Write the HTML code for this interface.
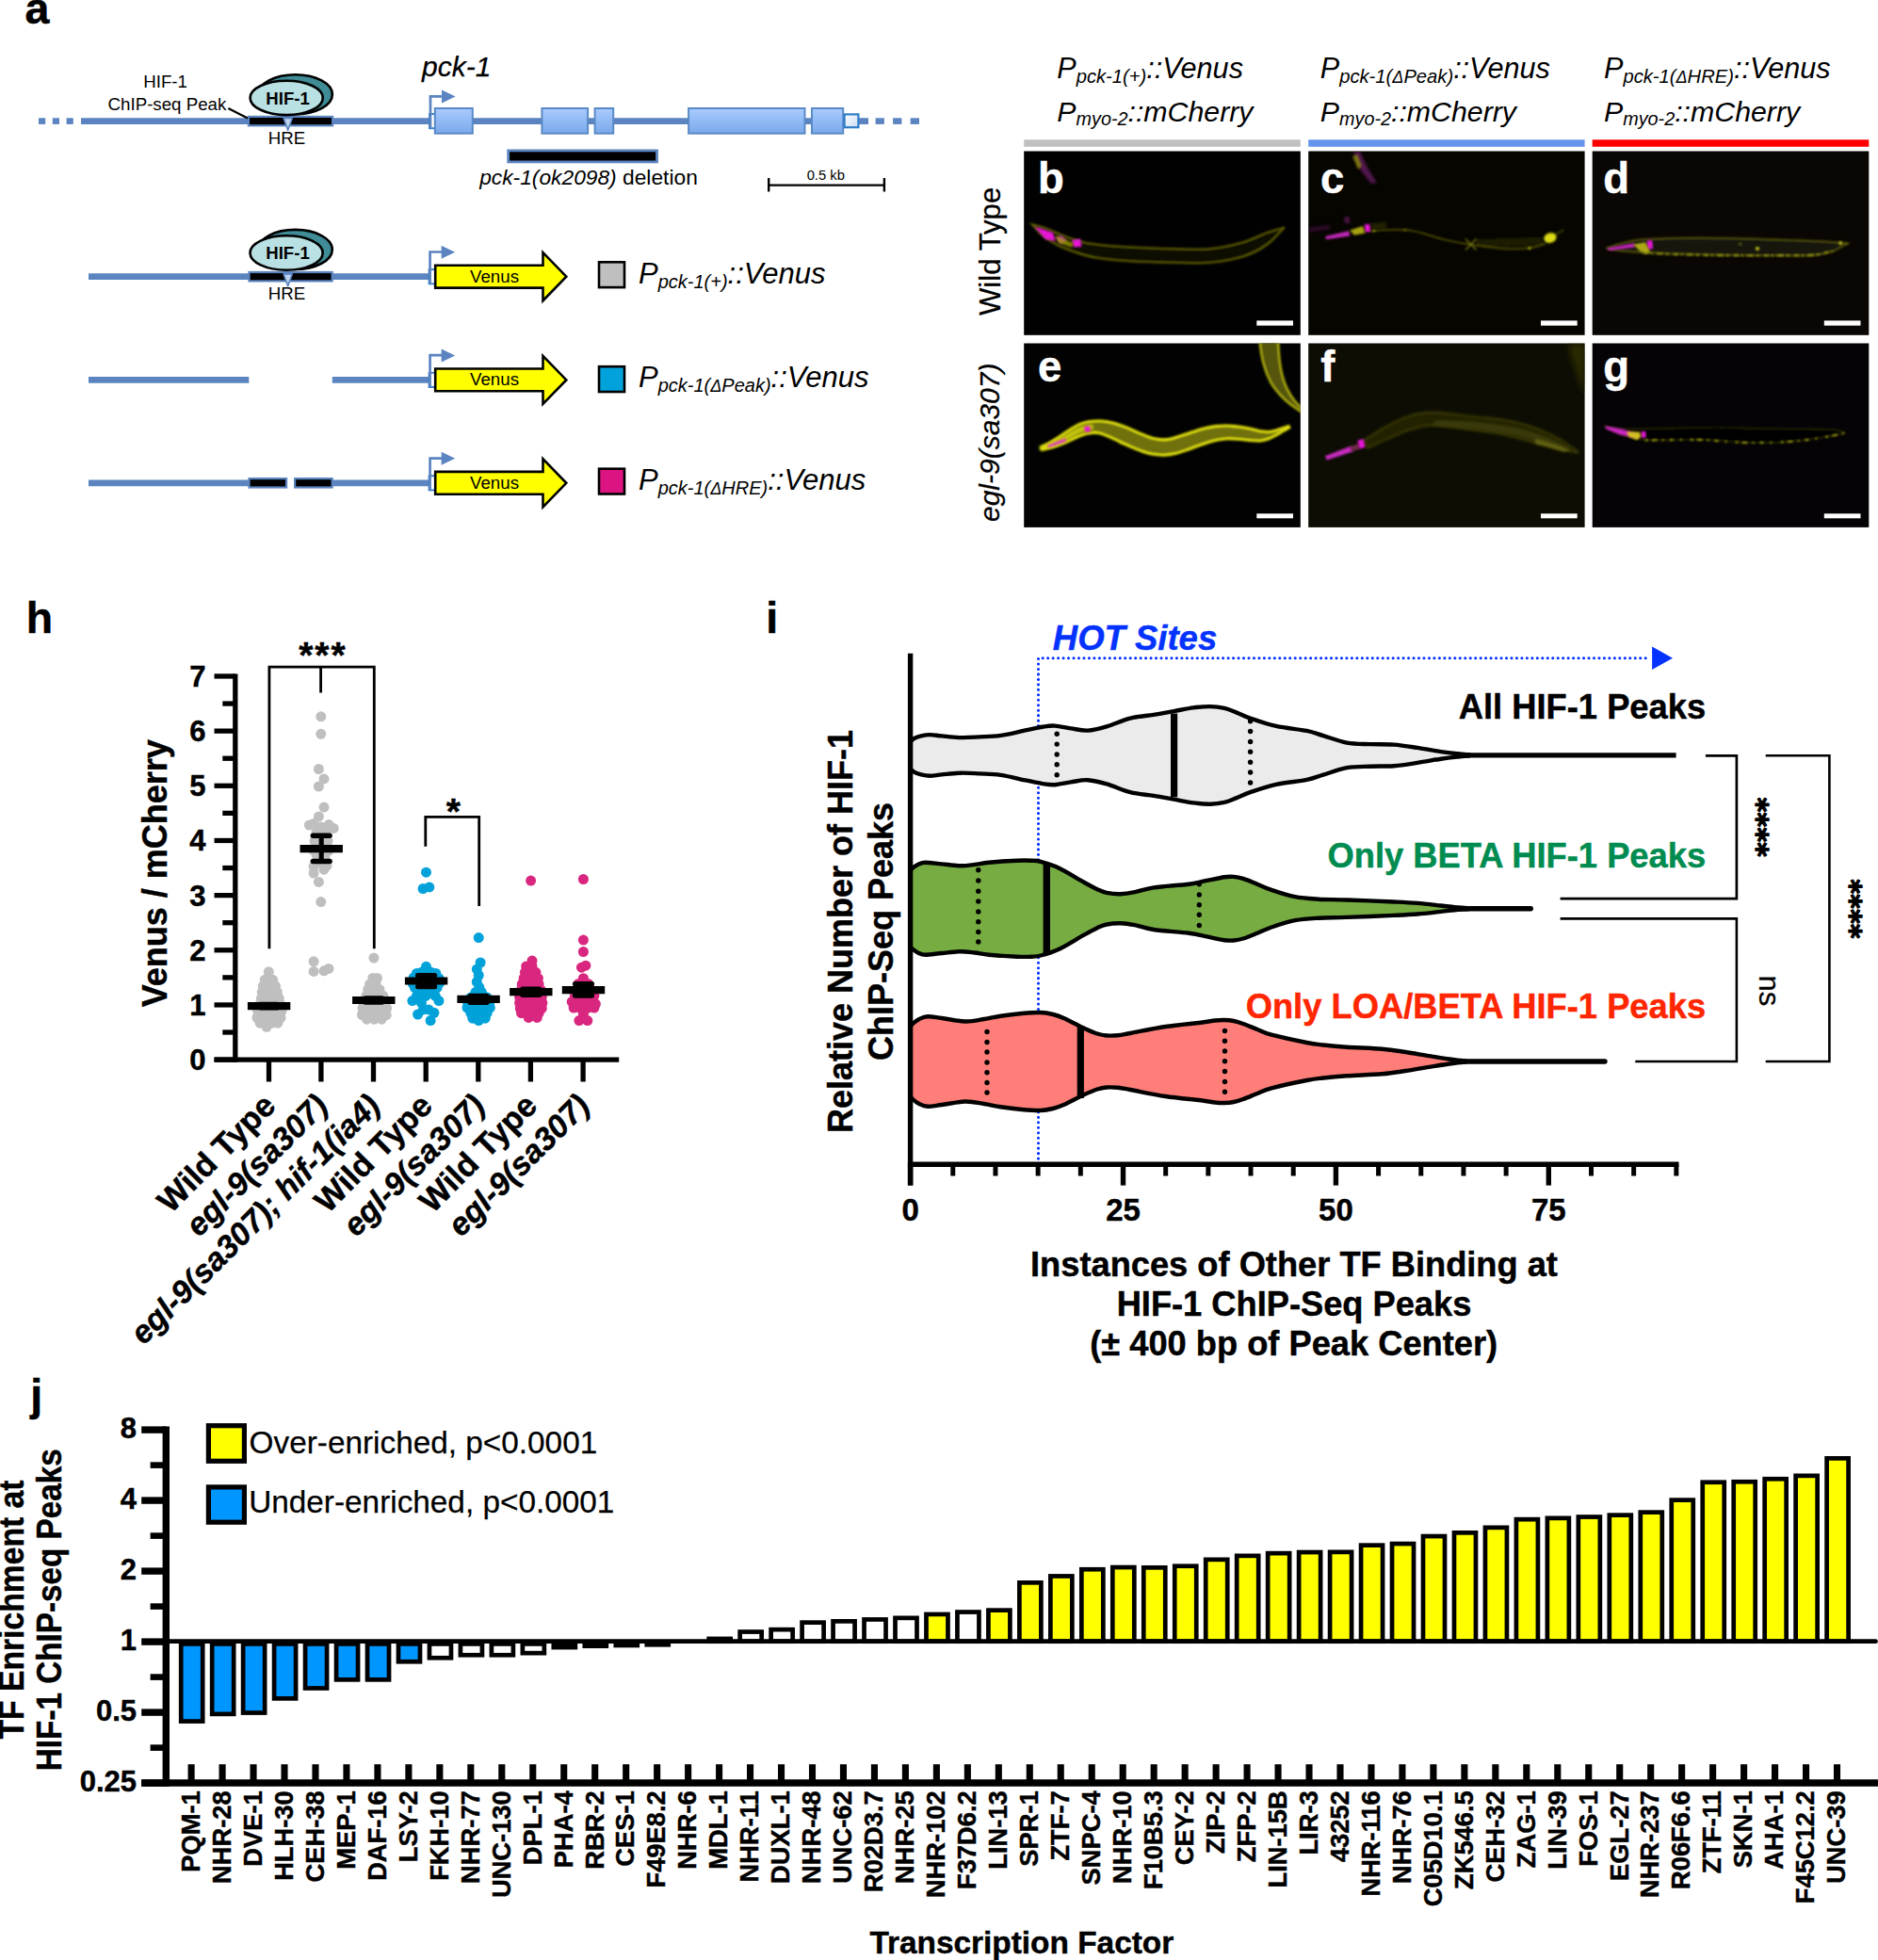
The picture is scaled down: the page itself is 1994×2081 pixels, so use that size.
<!DOCTYPE html>
<html lang="en"><head><meta charset="utf-8"><title>Figure</title>
<style>
html,body{margin:0;padding:0;background:#fff;}
body{width:1994px;height:2081px;overflow:hidden;}
svg{display:block;font-family:"Liberation Sans", sans-serif;}
</style></head><body>
<svg width="1994" height="2081" viewBox="0 0 1994 2081">
<rect width="1994" height="2081" fill="#fff"/>
<defs>
<linearGradient id="exg" x1="0" y1="0" x2="0" y2="1">
<stop offset="0" stop-color="#a9cbff"/><stop offset="1" stop-color="#7aa9ea"/></linearGradient>
<linearGradient id="utrg" x1="0" y1="0" x2="1" y2="1">
<stop offset="0" stop-color="#ffffff"/><stop offset="1" stop-color="#c9dcf5"/></linearGradient>
</defs>
<g id="panel-a">
<text x="26.60" y="24.70" font-size="46.5" font-weight="bold" font-style="normal" text-anchor="start" fill="#000"  stroke="#000" stroke-width="0.45">a</text>
<rect x="41.00" y="125.30" width="7.20" height="6.60" fill="#5b84c0" />
<rect x="55.80" y="125.30" width="7.20" height="6.60" fill="#5b84c0" />
<rect x="70.60" y="125.30" width="7.20" height="6.60" fill="#5b84c0" />
<line x1="86.00" y1="128.60" x2="922.00" y2="128.60" stroke="#5b84c0" stroke-width="6.6" stroke-linecap="butt" />
<rect x="929.60" y="125.30" width="9.30" height="6.60" fill="#5b84c0" />
<rect x="948.10" y="125.30" width="9.30" height="6.60" fill="#5b84c0" />
<rect x="966.70" y="125.30" width="9.30" height="6.60" fill="#5b84c0" />
<rect x="263.90" y="123.90" width="89.20" height="9.40" fill="#000" stroke="#5b84c0" stroke-width="2.2" />
<path d="M301.1,125.4 H310.3 L305.7,138.2 Z" fill="#bdd3ee" stroke="#5b84c0" stroke-width="1.6" stroke-linejoin="round"/>
<ellipse cx="313.5" cy="100.3" rx="39.4" ry="21.0" fill="#3f8c96" stroke="#000" stroke-width="2.6"/>
<ellipse cx="304.2" cy="103.9" rx="38.6" ry="18.2" fill="#b9e0e3" stroke="#000" stroke-width="2.6"/>
<text x="305.60" y="110.80" font-size="18.6" font-weight="bold" font-style="normal" text-anchor="middle" fill="#000" >HIF-1</text>
<text x="152.20" y="92.90" font-size="18.7" font-weight="normal" font-style="normal" text-anchor="start" fill="#000" >HIF-1</text>
<text x="114.60" y="117.40" font-size="18.7" font-weight="normal" font-style="normal" text-anchor="start" fill="#000" >ChIP-seq Peak</text>
<line x1="242.40" y1="114.90" x2="263.00" y2="125.60" stroke="#000" stroke-width="2.2" stroke-linecap="butt" />
<text x="304.60" y="153.20" font-size="18.7" font-weight="normal" font-style="normal" text-anchor="middle" fill="#000" >HRE</text>
<rect x="456.00" y="121.00" width="6.60" height="15.20" fill="#fff" stroke="#3b7fc4" stroke-width="1.9" />
<path d="M457.0,135.6 V102.4 H470.0" fill="none" stroke="#5b84c0" stroke-width="2.7"/>
<path d="M469.0,95.6 L483.6,102.6 L469.0,109.6 Z" fill="#5b84c0"/>
<rect x="461.80" y="115.00" width="40.00" height="26.70" fill="url(#exg)" stroke="#5a8ac6" stroke-width="2" />
<rect x="575.40" y="115.00" width="48.70" height="26.70" fill="url(#exg)" stroke="#5a8ac6" stroke-width="2" />
<rect x="631.60" y="115.00" width="19.60" height="26.70" fill="url(#exg)" stroke="#5a8ac6" stroke-width="2" />
<rect x="731.10" y="115.00" width="123.40" height="26.70" fill="url(#exg)" stroke="#5a8ac6" stroke-width="2" />
<rect x="862.00" y="115.00" width="33.20" height="26.70" fill="url(#exg)" stroke="#5a8ac6" stroke-width="2" />
<rect x="896.60" y="121.40" width="14.80" height="13.80" fill="url(#utrg)" stroke="#2f7dc8" stroke-width="2.2" />
<text x="448.00" y="81.00" font-size="30" font-weight="normal" font-style="italic" text-anchor="start" fill="#000"  stroke="#000" stroke-width="0.25">pck-1</text>
<rect x="539.70" y="159.90" width="157.80" height="12.00" fill="#000" stroke="#5b84c0" stroke-width="2.8" />
<text x="509.2" y="196.2" font-size="21.2" textLength="231.6" lengthAdjust="spacingAndGlyphs"><tspan font-style="italic">pck-1(ok2098)</tspan> deletion</text>
<path d="M816.2,189 V203.6 M938.9,189 V203.6 M816.2,196.6 H938.9" stroke="#000" stroke-width="2.4" fill="none"/>
<text x="876.80" y="191.20" font-size="14.8" font-weight="normal" font-style="normal" text-anchor="middle" fill="#000" >0.5 kb</text>
<line x1="94.00" y1="293.70" x2="457.00" y2="293.70" stroke="#5b84c0" stroke-width="6.8" stroke-linecap="butt" />
<rect x="264.50" y="289.00" width="88.20" height="9.40" fill="#000" stroke="#5b84c0" stroke-width="2.2" />
<path d="M301.1,290.9 H310.3 L305.7,303.7 Z" fill="#bdd3ee" stroke="#5b84c0" stroke-width="1.6" stroke-linejoin="round"/>
<ellipse cx="313.4" cy="264.9" rx="39.4" ry="21.0" fill="#3f8c96" stroke="#000" stroke-width="2.6"/>
<ellipse cx="304.1" cy="268.5" rx="38.6" ry="18.2" fill="#b9e0e3" stroke="#000" stroke-width="2.6"/>
<text x="305.50" y="275.40" font-size="18.6" font-weight="bold" font-style="normal" text-anchor="middle" fill="#000" >HIF-1</text>
<text x="304.40" y="318.40" font-size="18.7" font-weight="normal" font-style="normal" text-anchor="middle" fill="#000" >HRE</text>
<rect x="455.60" y="286.10" width="6.60" height="15.20" fill="#fff" stroke="#3b7fc4" stroke-width="1.9" />
<path d="M456.6,300.7 V267.5 H469.6" fill="none" stroke="#5b84c0" stroke-width="2.7"/>
<path d="M468.6,260.7 L483.2,267.7 L468.6,274.7 Z" fill="#5b84c0"/>
<path d="M462.2,281.8 H576.5 V268.2 L601.3,293.7 L576.5,319.2 V305.6 H462.2 Z" fill="#ffff00" stroke="#000" stroke-width="2.6" stroke-linejoin="miter"/>
<text x="525.00" y="299.70" font-size="18.7" font-weight="normal" font-style="normal" text-anchor="middle" fill="#000" >Venus</text>
<rect x="636.00" y="278.30" width="27.00" height="26.80" fill="#bfbfbf" stroke="#000" stroke-width="2.6" />
<text x="678.0" y="301.3" font-size="31" font-style="italic">P<tspan dy="4.8" font-size="20">pck-1(+)</tspan><tspan dy="-4.8" font-size="31">::Venus</tspan></text>
<line x1="94.00" y1="403.40" x2="264.30" y2="403.40" stroke="#5b84c0" stroke-width="6.8" stroke-linecap="butt" />
<line x1="352.80" y1="403.40" x2="457.00" y2="403.40" stroke="#5b84c0" stroke-width="6.8" stroke-linecap="butt" />
<rect x="455.60" y="395.80" width="6.60" height="15.20" fill="#fff" stroke="#3b7fc4" stroke-width="1.9" />
<path d="M456.6,410.4 V377.2 H469.6" fill="none" stroke="#5b84c0" stroke-width="2.7"/>
<path d="M468.6,370.4 L483.2,377.4 L468.6,384.4 Z" fill="#5b84c0"/>
<path d="M462.2,391.5 H576.5 V377.9 L601.3,403.4 L576.5,428.9 V415.3 H462.2 Z" fill="#ffff00" stroke="#000" stroke-width="2.6" stroke-linejoin="miter"/>
<text x="525.00" y="409.40" font-size="18.7" font-weight="normal" font-style="normal" text-anchor="middle" fill="#000" >Venus</text>
<rect x="636.00" y="389.20" width="27.00" height="26.80" fill="#00a2dc" stroke="#000" stroke-width="2.6" />
<text x="678.0" y="411.0" font-size="31" font-style="italic">P<tspan dy="4.8" font-size="20">pck-1(<tspan font-size="18">Δ</tspan>Peak)</tspan><tspan dy="-4.8" font-size="31">::Venus</tspan></text>
<line x1="94.00" y1="512.80" x2="264.30" y2="512.80" stroke="#5b84c0" stroke-width="6.8" stroke-linecap="butt" />
<line x1="352.80" y1="512.80" x2="457.00" y2="512.80" stroke="#5b84c0" stroke-width="6.8" stroke-linecap="butt" />
<rect x="264.50" y="508.10" width="39.60" height="9.40" fill="#000" stroke="#5b84c0" stroke-width="2.2" />
<rect x="313.10" y="508.10" width="39.60" height="9.40" fill="#000" stroke="#5b84c0" stroke-width="2.2" />
<rect x="455.60" y="505.20" width="6.60" height="15.20" fill="#fff" stroke="#3b7fc4" stroke-width="1.9" />
<path d="M456.6,519.8 V486.6 H469.6" fill="none" stroke="#5b84c0" stroke-width="2.7"/>
<path d="M468.6,479.8 L483.2,486.8 L468.6,493.8 Z" fill="#5b84c0"/>
<path d="M462.2,500.9 H576.5 V487.3 L601.3,512.8 L576.5,538.3 V524.7 H462.2 Z" fill="#ffff00" stroke="#000" stroke-width="2.6" stroke-linejoin="miter"/>
<text x="525.00" y="518.80" font-size="18.7" font-weight="normal" font-style="normal" text-anchor="middle" fill="#000" >Venus</text>
<rect x="636.00" y="497.70" width="27.00" height="26.80" fill="#dc1482" stroke="#000" stroke-width="2.6" />
<text x="678.0" y="520.4" font-size="31" font-style="italic">P<tspan dy="4.8" font-size="20">pck-1(<tspan font-size="18">Δ</tspan>HRE)</tspan><tspan dy="-4.8" font-size="31">::Venus</tspan></text>
</g>
<defs>
<filter id="bl1" x="-20%" y="-50%" width="140%" height="200%"><feGaussianBlur stdDeviation="0.9"/></filter>
<filter id="bl2" x="-20%" y="-50%" width="140%" height="200%"><feGaussianBlur stdDeviation="1.8"/></filter>
<filter id="bl3" x="-20%" y="-50%" width="140%" height="200%"><feGaussianBlur stdDeviation="3.5"/></filter>
<clipPath id="cb"><rect x="1087.2" y="160.5" width="293.6" height="195.3"/></clipPath>
<clipPath id="cc"><rect x="1389.2" y="160.5" width="293.4" height="195.3"/></clipPath>
<clipPath id="cd"><rect x="1690.7" y="160.5" width="293.6" height="195.3"/></clipPath>
<clipPath id="ce"><rect x="1087.2" y="364.5" width="293.6" height="195.4"/></clipPath>
<clipPath id="cf"><rect x="1389.2" y="364.5" width="293.4" height="195.4"/></clipPath>
<clipPath id="cg"><rect x="1690.7" y="364.5" width="293.6" height="195.4"/></clipPath>
</defs>
<g id="panel-bg">
<text x="1122.3" y="83.1" font-size="30.6" font-style="italic">P<tspan dy="5.0" font-size="20.2">pck-1(+)</tspan><tspan dy="-5.0" font-size="30.6">::Venus</tspan></text>
<text x="1122.3" y="129.2" font-size="30.3" font-style="italic">P<tspan dy="4.2" font-size="19.8">myo-2</tspan><tspan dy="-4.2" font-size="30.3">::mCherry</tspan></text>
<text x="1401.8" y="83.1" font-size="30.6" font-style="italic">P<tspan dy="5.0" font-size="20.2">pck-1(<tspan font-size="18">Δ</tspan>Peak)</tspan><tspan dy="-5.0" font-size="30.6">::Venus</tspan></text>
<text x="1401.8" y="129.2" font-size="30.3" font-style="italic">P<tspan dy="4.2" font-size="19.8">myo-2</tspan><tspan dy="-4.2" font-size="30.3">::mCherry</tspan></text>
<text x="1703.0" y="83.1" font-size="30.6" font-style="italic">P<tspan dy="5.0" font-size="20.2">pck-1(<tspan font-size="18">Δ</tspan>HRE)</tspan><tspan dy="-5.0" font-size="30.6">::Venus</tspan></text>
<text x="1703.0" y="129.2" font-size="30.3" font-style="italic">P<tspan dy="4.2" font-size="19.8">myo-2</tspan><tspan dy="-4.2" font-size="30.3">::mCherry</tspan></text>
<rect x="1087.20" y="148.30" width="293.60" height="7.50" fill="#c0c0c0" />
<rect x="1389.20" y="148.30" width="293.40" height="7.50" fill="#6495ed" />
<rect x="1690.70" y="148.30" width="293.60" height="7.50" fill="#ff0000" />
<text transform="translate(1061.50 266.90) rotate(-90)" font-size="31.2" font-weight="normal" font-style="normal" text-anchor="middle" fill="#000"  stroke="#000" stroke-width="0.25">Wild Type</text>
<text transform="translate(1061.00 469.80) rotate(-90)" font-size="30" font-weight="normal" font-style="italic" text-anchor="middle" fill="#000"  stroke="#000" stroke-width="0.25">egl-9(sa307)</text>
<rect x="1087.20" y="160.50" width="293.60" height="195.30" fill="#020101" />
<rect x="1087.20" y="364.50" width="293.60" height="195.40" fill="#020202" />
<rect x="1389.20" y="160.50" width="293.40" height="195.30" fill="#060500" />
<rect x="1389.20" y="364.50" width="293.40" height="195.40" fill="#0d0d03" />
<rect x="1690.70" y="160.50" width="293.60" height="195.30" fill="#090603" />
<rect x="1690.70" y="364.50" width="293.60" height="195.40" fill="#050305" />
<g clip-path="url(#cb)"><path d="M1095.50,238.00 C1098.25,238.83 1106.25,240.92 1112.00,243.00 C1117.75,245.08 1123.67,248.17 1130.00,250.50 C1136.33,252.83 1142.50,255.33 1150.00,257.00 C1157.50,258.67 1165.83,259.58 1175.00,260.50 C1184.17,261.42 1193.33,261.92 1205.00,262.50 C1216.67,263.08 1231.67,263.75 1245.00,264.00 C1258.33,264.25 1272.50,265.17 1285.00,264.00 C1297.50,262.83 1310.00,259.83 1320.00,257.00 C1330.00,254.17 1337.67,249.58 1345.00,247.00 C1352.33,244.42 1360.83,242.42 1364.00,241.50 L1364.00,241.50 C1360.83,244.58 1352.33,254.83 1345.00,260.00 C1337.67,265.17 1330.00,269.33 1320.00,272.50 C1310.00,275.67 1297.50,277.92 1285.00,279.00 C1272.50,280.08 1259.17,279.25 1245.00,279.00 C1230.83,278.75 1213.33,278.33 1200.00,277.50 C1186.67,276.67 1174.67,275.58 1165.00,274.00 C1155.33,272.42 1149.17,270.33 1142.00,268.00 C1134.83,265.67 1128.00,263.17 1122.00,260.00 C1116.00,256.83 1110.42,252.67 1106.00,249.00 C1101.58,245.33 1097.25,239.83 1095.50,238.00 Z" fill="#0f0f02" stroke="#6a6a00" stroke-width="1.7" filter="url(#bl1)"/></g>
<g clip-path="url(#cb)"><path d="M1098.5,240.5 L1118,247 L1121,256 L1110,254 Z" fill="#e619d6" opacity="1" filter="url(#bl1)"/></g>
<g clip-path="url(#cb)"><path d="M1121,252 L1127,250 L1133,256 L1126,259 Z" fill="#b330a0" opacity="1" filter="url(#bl1)"/></g>
<g clip-path="url(#cb)"><path d="M1138,255 L1147,253.5 L1148.5,262 L1140,262.5 Z" fill="#e619d6" opacity="1" filter="url(#bl1)"/></g>
<g clip-path="url(#cb)"><path d="M1120,250 L1140,258 L1138,263 L1124,258 Z" fill="#a8a800" opacity="0.7" filter="url(#bl1)"/></g>
<g clip-path="url(#cc)"><path d="M1437,161 L1444,161 L1452,178 L1462,194 L1456,195 L1444,180 Z" fill="#6a1a68" opacity="0.75" filter="url(#bl2)"/></g>
<g clip-path="url(#cc)"><path d="M1436,166 L1441,164 L1446,176 L1442,180 Z" fill="#8c8a10" opacity="0.8" filter="url(#bl1)"/></g>
<g clip-path="url(#cc)"><g filter="url(#bl1)"><path d="M1454.4,245.4 C1470,243.6 1482,243.6 1492.3,244.2 S1512,248 1522,251.2 S1545,257 1555,258.6 S1590,264.2 1604.6,264.4 S1632,262.5 1640.9,258.6" fill="none" stroke="#6a6a0a" stroke-width="1.3"/><path d="M1568,254.5 C1590,252.8 1615,252.5 1637,251.5 L1638,258.5 C1618,263 1590,262.5 1568,260 Z" fill="#1a1a03"/><path d="M1556,253.6 L1567.5,265.4 M1567.5,253.6 L1556,265.4" stroke="#77770e" stroke-width="1.4"/><path d="M1652,249 L1656,246.5 L1661,243.5" fill="none" stroke="#6c6c0c" stroke-width="1.6" stroke-dasharray="2 1.6"/><circle cx="1624" cy="263.8" r="1.3" fill="#d0d010"/><circle cx="1459" cy="245" r="1.3" fill="#c8c810"/><circle cx="1492" cy="244.2" r="1" fill="#a8a810"/></g></g>
<g clip-path="url(#cc)"><path d="M1407,251 L1432,245.2 L1433.5,250.6 L1408,254.2 Z" fill="#c026b8" opacity="1" filter="url(#bl1)"/></g>
<g clip-path="url(#cc)"><path d="M1448.8,238.2 L1454.6,238 L1455.2,246 L1449.6,246.4 Z" fill="#e619d6" opacity="1" filter="url(#bl1)"/></g>
<g clip-path="url(#cc)"><path d="M1433,244.5 L1447,240 L1449.5,247.5 L1438,249.8 Z" fill="#c4be14" opacity="0.85" filter="url(#bl1)"/></g>
<g clip-path="url(#cc)"><path d="M1390,241.5 L1412,238.5 L1413,243 L1390,247 Z" fill="#3c1039" opacity="0.7" filter="url(#bl2)"/></g>
<g clip-path="url(#cc)"><path d="M1427,230.5 L1432.5,230 L1433.5,236.5 L1428,237 Z" fill="#5e195c" opacity="0.8" filter="url(#bl2)"/></g>
<g clip-path="url(#cc)"><path d="M1456,237 L1472,236 L1472,243 L1456,244 Z" fill="#2b2b06" opacity="0.8" filter="url(#bl2)"/></g>
<g clip-path="url(#cc)"><ellipse cx="1645.9" cy="252.5" rx="6.8" ry="5.2" fill="#dcdc12" filter="url(#bl1)" transform="rotate(-18 1645.9 252.5)"/></g>
<g clip-path="url(#cd)"><path d="M1705.40,263.70 C1707.83,262.88 1714.47,260.28 1720.00,258.80 C1725.53,257.32 1730.27,255.77 1738.60,254.80 C1746.93,253.83 1759.22,253.40 1770.00,253.00 C1780.78,252.60 1790.80,252.40 1803.30,252.40 C1815.80,252.40 1831.52,252.68 1845.00,253.00 C1858.48,253.32 1871.70,253.87 1884.20,254.30 C1896.70,254.73 1909.20,255.12 1920.00,255.60 C1930.80,256.08 1942.00,256.70 1949.00,257.20 C1956.00,257.70 1959.83,258.37 1962.00,258.60 L1962.00,258.60 C1961.00,259.08 1958.70,260.10 1956.00,261.50 C1953.30,262.90 1951.02,265.37 1945.80,267.00 C1940.58,268.63 1934.97,270.55 1924.70,271.30 C1914.43,272.05 1897.48,271.52 1884.20,271.50 C1870.92,271.48 1858.48,271.37 1845.00,271.20 C1831.52,271.03 1815.80,270.80 1803.30,270.50 C1790.80,270.20 1780.78,269.85 1770.00,269.40 C1759.22,268.95 1746.93,268.33 1738.60,267.80 C1730.27,267.27 1725.53,266.88 1720.00,266.20 C1714.47,265.52 1707.83,264.12 1705.40,263.70 Z" fill="#15150a" stroke="#5c5c0a" stroke-width="1.5" filter="url(#bl1)"/></g>
<g clip-path="url(#cd)"><path d="M1745,268.6 C1790,270.9 1860,272.1 1928,270.6 L1946,266.5" fill="none" stroke="#a2a212" stroke-width="1.7" stroke-dasharray="5 3 2 4 7 3 3 5" filter="url(#bl1)"/></g>
<g clip-path="url(#cd)"><path d="M1706.5,263.6 L1735,258.2 L1736,262.6 L1708,266 Z" fill="#c421bc" opacity="1" filter="url(#bl1)"/></g>
<g clip-path="url(#cd)"><path d="M1748.6,255.6 L1754.4,255.2 L1755,264.2 L1749.4,264.6 Z" fill="#e619d6" opacity="1" filter="url(#bl1)"/></g>
<g clip-path="url(#cd)"><path d="M1734,259.5 L1747,257 L1752.5,268.5 L1742,267.5 Z" fill="#c8c218" opacity="0.85" filter="url(#bl1)"/></g>
<g clip-path="url(#cd)" filter="url(#bl1)"><circle cx="1866" cy="264" r="2" fill="#c9c920"/><circle cx="1847.8" cy="259.2" r="1.4" fill="#70701a"/><circle cx="1954.2" cy="258" r="2" fill="#b5b520"/><circle cx="1960.5" cy="258.6" r="1" fill="#77771a"/></g>
<g clip-path="url(#ce)"><path d="M1337.25,345.29 C1337.36,348.71 1337.15,358.86 1337.88,365.78 C1338.61,372.69 1339.77,380.13 1341.63,386.78 C1343.49,393.43 1346.04,400.20 1349.04,405.69 C1352.03,411.17 1356.04,415.71 1359.60,419.71 C1363.16,423.70 1366.50,426.57 1370.41,429.65 C1374.31,432.72 1380.94,436.74 1383.04,438.16 L1384.96,435.84 C1383.23,434.10 1377.52,428.94 1374.59,425.35 C1371.67,421.76 1369.51,418.47 1367.40,414.29 C1365.30,410.12 1363.40,405.49 1361.96,400.31 C1360.52,395.13 1359.54,389.23 1358.77,383.22 C1357.99,377.20 1357.66,370.64 1357.32,364.22 C1356.98,357.80 1356.84,347.96 1356.75,344.71 Z" fill="#55550c" stroke="#b4b40c" stroke-width="2.2" filter="url(#bl1)"/></g>
<g clip-path="url(#ce)"><path d="M1106.73,476.74 C1108.46,476.44 1113.28,475.95 1117.07,474.93 C1120.86,473.92 1125.56,472.22 1129.46,470.67 C1133.35,469.12 1136.93,467.18 1140.45,465.64 C1143.97,464.10 1147.53,462.40 1150.58,461.43 C1153.63,460.45 1156.02,460.07 1158.77,459.80 C1161.52,459.54 1163.94,459.19 1167.08,459.85 C1170.22,460.51 1173.97,462.22 1177.60,463.77 C1181.24,465.32 1185.03,467.35 1188.88,469.12 C1192.72,470.90 1196.54,472.67 1200.68,474.43 C1204.82,476.18 1209.75,478.29 1213.72,479.63 C1217.70,480.98 1220.81,481.87 1224.55,482.47 C1228.29,483.08 1232.27,483.38 1236.15,483.25 C1240.03,483.11 1243.92,482.51 1247.83,481.64 C1251.74,480.78 1255.64,479.38 1259.59,478.03 C1263.54,476.69 1267.60,474.98 1271.54,473.59 C1275.48,472.19 1279.64,470.76 1283.24,469.68 C1286.84,468.60 1289.94,467.76 1293.14,467.11 C1296.34,466.46 1299.40,465.96 1302.44,465.80 C1305.48,465.63 1308.35,465.93 1311.41,466.12 C1314.47,466.31 1317.69,466.65 1320.82,466.94 C1323.95,467.23 1327.10,467.69 1330.21,467.85 C1333.33,468.01 1336.57,468.26 1339.50,467.90 C1342.43,467.54 1345.22,466.64 1347.80,465.66 C1350.39,464.69 1352.68,463.28 1355.00,462.03 C1357.32,460.78 1359.37,459.50 1361.70,458.15 C1364.02,456.80 1367.72,454.63 1368.93,453.93 L1368.27,452.47 C1366.95,452.90 1362.82,454.23 1360.30,455.05 C1357.79,455.87 1355.55,456.82 1353.20,457.37 C1350.85,457.92 1348.48,458.25 1346.20,458.34 C1343.91,458.43 1341.90,458.26 1339.50,457.90 C1337.10,457.54 1334.61,456.79 1331.79,456.15 C1328.97,455.51 1325.78,454.64 1322.58,454.06 C1319.38,453.48 1315.99,453.05 1312.59,452.68 C1309.19,452.30 1305.78,451.83 1302.16,451.80 C1298.54,451.77 1294.69,452.04 1290.86,452.49 C1287.02,452.94 1283.22,453.53 1279.16,454.52 C1275.09,455.51 1270.58,457.11 1266.46,458.41 C1262.34,459.72 1258.13,461.18 1254.41,462.37 C1250.70,463.56 1247.30,464.82 1244.17,465.56 C1241.04,466.29 1238.44,466.69 1235.65,466.75 C1232.87,466.82 1230.18,466.46 1227.45,465.93 C1224.72,465.39 1222.63,464.76 1219.28,463.57 C1215.92,462.37 1211.28,460.46 1207.32,458.77 C1203.36,457.09 1199.68,455.10 1195.52,453.48 C1191.37,451.85 1186.86,450.12 1182.40,449.03 C1177.93,447.94 1172.91,447.22 1168.72,446.95 C1164.53,446.68 1160.95,446.86 1157.23,447.40 C1153.52,447.93 1150.03,448.68 1146.42,450.17 C1142.80,451.67 1139.03,454.20 1135.55,456.36 C1132.07,458.52 1128.98,460.88 1125.54,463.13 C1122.11,465.38 1118.18,467.91 1114.93,469.87 C1111.68,471.82 1107.54,474.03 1106.07,474.86 Z" fill="#70700e" stroke="#e2e20a" stroke-width="2.8" filter="url(#bl1)"/></g>
<g clip-path="url(#ce)"><path d="M1106.40,475.80 C1108.00,475.23 1112.48,473.88 1116.00,472.40 C1119.52,470.92 1123.83,468.80 1127.50,466.90 C1131.17,465.00 1134.50,462.85 1138.00,461.00 C1141.50,459.15 1145.17,457.03 1148.50,455.80 C1151.83,454.57 1156.42,453.97 1158.00,453.60" fill="none" stroke="#dcdc0c" stroke-width="6" opacity="0.8" stroke-linecap="round" filter="url(#bl2)"/></g>
<g clip-path="url(#ce)"><path d="M1112,473 L1131,465.2 L1132.5,468.4 L1113,475.4 Z" fill="#e040c0" opacity="1" filter="url(#bl1)"/></g>
<g clip-path="url(#ce)"><path d="M1151,453 L1157.2,452.4 L1158,458 L1152,458.6 Z" fill="#e619d6" opacity="1" filter="url(#bl1)"/></g>
<g clip-path="url(#cf)"><path d="M1452.03,475.76 C1455.64,474.15 1466.11,469.35 1473.67,466.10 C1481.23,462.85 1489.71,458.64 1497.41,456.25 C1505.12,453.87 1512.28,452.20 1519.89,451.79 C1527.50,451.37 1535.19,452.87 1543.06,453.76 C1550.92,454.65 1559.10,456.06 1567.09,457.14 C1575.08,458.23 1583.09,458.81 1590.99,460.29 C1598.89,461.77 1606.57,463.99 1614.51,466.02 C1622.46,468.05 1631.02,470.53 1638.68,472.47 C1646.34,474.42 1654.39,476.29 1660.48,477.67 C1666.58,479.05 1672.80,480.24 1675.26,480.75 L1675.74,479.65 C1673.67,478.16 1668.75,474.05 1663.32,470.73 C1657.88,467.41 1650.56,463.05 1643.12,459.73 C1635.68,456.40 1626.94,453.18 1618.69,450.78 C1610.43,448.38 1601.91,446.67 1593.61,445.31 C1585.31,443.96 1577.09,443.60 1568.91,442.66 C1560.73,441.71 1552.84,440.45 1544.54,439.64 C1536.24,438.83 1527.70,437.33 1519.11,437.81 C1510.52,438.30 1501.48,439.70 1492.99,442.55 C1484.49,445.40 1475.67,450.68 1468.13,454.90 C1460.59,459.11 1451.16,465.68 1447.77,467.84 Z" fill="#242405" stroke="#45450a" stroke-width="1.4" filter="url(#bl2)"/></g>
<g clip-path="url(#cf)"><path d="M1520,452 C1545,453.5 1575,456 1600,460.5 S1640,472 1662,477 L1668,476 C1650,466 1625,456 1600,452 S1550,446 1525,446 Z" fill="#3e3e0a" opacity="0.85" filter="url(#bl2)"/></g>
<g clip-path="url(#cf)"><path d="M1630,466 C1645,470 1658,474 1668,478.5 L1660,479.5 C1650,476 1640,473 1630,471 Z" fill="#6c6c12" opacity="0.9" filter="url(#bl2)"/></g>
<g clip-path="url(#cf)"><path d="M1406.8,484.2 L1434.5,473.4 L1437,479.2 L1409,488.6 Z" fill="#c42bbb" opacity="1" filter="url(#bl1)"/></g>
<g clip-path="url(#cf)"><path d="M1433,474.5 L1442,471 L1444,476.5 L1435.5,479.5 Z" fill="#6e2a4a" opacity="1" filter="url(#bl1)"/></g>
<g clip-path="url(#cf)"><path d="M1441.4,467.8 L1447.6,466 L1449.6,474.8 L1443.4,476.4 Z" fill="#e619d6" opacity="1" filter="url(#bl1)"/></g>
<g clip-path="url(#cf)"><path d="M1665,365 L1683,365 L1683,420 C1675,400 1668,380 1665,365 Z" fill="#2a2a06" opacity="1" filter="url(#bl3)"/></g>
<g clip-path="url(#cg)"><path d="M1703.00,452.40 C1706.67,452.87 1716.38,454.80 1725.00,455.20 C1733.62,455.60 1738.95,455.00 1754.70,454.80 C1770.45,454.60 1801.95,454.03 1819.50,454.00 C1837.05,453.97 1846.52,454.38 1860.00,454.60 C1873.48,454.82 1886.12,455.08 1900.40,455.30 C1914.68,455.52 1935.98,455.17 1945.70,455.90 C1955.42,456.63 1956.53,459.07 1958.70,459.70 L1958.70,459.70 C1956.00,460.32 1949.52,462.13 1942.50,463.40 C1935.48,464.67 1926.32,466.17 1916.60,467.30 C1906.88,468.43 1894.98,469.77 1884.20,470.20 C1873.42,470.63 1865.38,470.45 1851.90,469.90 C1838.42,469.35 1820.83,467.32 1803.30,466.90 C1785.77,466.48 1760.58,468.47 1746.70,467.40 C1732.82,466.33 1727.28,463.00 1720.00,460.50 C1712.72,458.00 1705.83,453.75 1703.00,452.40 Z" fill="#060405" stroke="#2c2c07" stroke-width="1.2" filter="url(#bl1)"/></g>
<g clip-path="url(#cg)"><path d="M1746.7,467.4 C1775,467.2 1790,466.6 1803.3,466.9 S1835,469.4 1851.9,469.9 S1900,469.6 1916.6,467.3 S1950,462 1958.7,459.7" fill="none" stroke="#b4b414" stroke-width="1.7" stroke-dasharray="3 4 6 5 2 6 4 7 2 9" filter="url(#bl1)"/></g>
<g clip-path="url(#cg)"><path d="M1704,452.2 L1722,455.6 L1741,461.5 L1739,465.5 L1720,461.5 L1705.5,455.6 Z" fill="#cc25c2" opacity="1" filter="url(#bl1)"/></g>
<g clip-path="url(#cg)"><path d="M1742.6,457.8 L1747.4,458.2 L1747.6,465 L1742.8,464.6 Z" fill="#e619d6" opacity="1" filter="url(#bl1)"/></g>
<g clip-path="url(#cg)"><path d="M1727,458.2 L1741,458.6 L1742.5,463.8 L1738,467.2 L1729,463.4 Z" fill="#d4cc16" opacity="0.92" filter="url(#bl1)"/></g>
<text x="1102.00" y="205.30" font-size="45.5" font-weight="bold" font-style="normal" text-anchor="start" fill="#fff"  stroke="#fff" stroke-width="0.45">b</text>
<text x="1402.00" y="205.30" font-size="45.5" font-weight="bold" font-style="normal" text-anchor="start" fill="#fff"  stroke="#fff" stroke-width="0.45">c</text>
<text x="1702.20" y="205.30" font-size="45.5" font-weight="bold" font-style="normal" text-anchor="start" fill="#fff"  stroke="#fff" stroke-width="0.45">d</text>
<text x="1102.00" y="405.00" font-size="45.5" font-weight="bold" font-style="normal" text-anchor="start" fill="#fff"  stroke="#fff" stroke-width="0.45">e</text>
<text x="1402.20" y="405.00" font-size="45.5" font-weight="bold" font-style="normal" text-anchor="start" fill="#fff"  stroke="#fff" stroke-width="0.45">f</text>
<text x="1702.20" y="405.00" font-size="45.5" font-weight="bold" font-style="normal" text-anchor="start" fill="#fff"  stroke="#fff" stroke-width="0.45">g</text>
<rect x="1334.30" y="340.40" width="38.70" height="5.30" fill="#fff" />
<rect x="1334.30" y="545.30" width="38.70" height="5.00" fill="#fff" />
<rect x="1636.00" y="340.40" width="38.70" height="5.30" fill="#fff" />
<rect x="1636.00" y="545.30" width="38.70" height="5.00" fill="#fff" />
<rect x="1936.80" y="340.40" width="38.70" height="5.30" fill="#fff" />
<rect x="1936.80" y="545.30" width="38.70" height="5.00" fill="#fff" />
</g>
<g id="panel-h">
<text x="27.80" y="671.90" font-size="46.5" font-weight="bold" font-style="normal" text-anchor="start" fill="#000"  stroke="#000" stroke-width="0.45">h</text>
<circle cx="285.3" cy="1031.8" r="5.5" fill="#bfbfbf"/>
<circle cx="281.2" cy="1040.3" r="5.5" fill="#bfbfbf"/>
<circle cx="289.7" cy="1040.3" r="5.5" fill="#bfbfbf"/>
<circle cx="279.3" cy="1046.9" r="5.5" fill="#bfbfbf"/>
<circle cx="286.8" cy="1046.9" r="5.5" fill="#bfbfbf"/>
<circle cx="292.5" cy="1046.9" r="5.5" fill="#bfbfbf"/>
<circle cx="278.3" cy="1053.5" r="5.5" fill="#bfbfbf"/>
<circle cx="284.9" cy="1053.5" r="5.5" fill="#bfbfbf"/>
<circle cx="291.5" cy="1053.5" r="5.5" fill="#bfbfbf"/>
<circle cx="294.4" cy="1053.5" r="5.5" fill="#bfbfbf"/>
<circle cx="277.4" cy="1060.1" r="5.5" fill="#bfbfbf"/>
<circle cx="284.0" cy="1060.1" r="5.5" fill="#bfbfbf"/>
<circle cx="290.6" cy="1060.1" r="5.5" fill="#bfbfbf"/>
<circle cx="296.3" cy="1060.1" r="5.5" fill="#bfbfbf"/>
<circle cx="275.5" cy="1066.7" r="5.5" fill="#bfbfbf"/>
<circle cx="281.2" cy="1066.7" r="5.5" fill="#bfbfbf"/>
<circle cx="287.8" cy="1066.7" r="5.5" fill="#bfbfbf"/>
<circle cx="294.4" cy="1066.7" r="5.5" fill="#bfbfbf"/>
<circle cx="298.2" cy="1066.7" r="5.5" fill="#bfbfbf"/>
<circle cx="273.6" cy="1073.3" r="5.5" fill="#bfbfbf"/>
<circle cx="280.2" cy="1073.3" r="5.5" fill="#bfbfbf"/>
<circle cx="286.8" cy="1073.3" r="5.5" fill="#bfbfbf"/>
<circle cx="293.4" cy="1073.3" r="5.5" fill="#bfbfbf"/>
<circle cx="299.1" cy="1073.3" r="5.5" fill="#bfbfbf"/>
<circle cx="273.0" cy="1080.5" r="5.5" fill="#bfbfbf"/>
<circle cx="278.7" cy="1080.5" r="5.5" fill="#bfbfbf"/>
<circle cx="284.9" cy="1080.5" r="5.5" fill="#bfbfbf"/>
<circle cx="291.5" cy="1080.5" r="5.5" fill="#bfbfbf"/>
<circle cx="298.0" cy="1080.5" r="5.5" fill="#bfbfbf"/>
<circle cx="276.1" cy="1086.2" r="5.5" fill="#bfbfbf"/>
<circle cx="281.7" cy="1086.2" r="5.5" fill="#bfbfbf"/>
<circle cx="288.7" cy="1086.2" r="5.5" fill="#bfbfbf"/>
<circle cx="294.9" cy="1086.2" r="5.5" fill="#bfbfbf"/>
<circle cx="283.1" cy="1090.3" r="5.5" fill="#bfbfbf"/>
<circle cx="340.8" cy="760.8" r="5.5" fill="#bfbfbf"/>
<circle cx="340.8" cy="779.3" r="5.5" fill="#bfbfbf"/>
<circle cx="338.4" cy="816.5" r="5.5" fill="#bfbfbf"/>
<circle cx="344.0" cy="826.9" r="5.5" fill="#bfbfbf"/>
<circle cx="338.4" cy="835.0" r="5.5" fill="#bfbfbf"/>
<circle cx="344.0" cy="857.1" r="5.5" fill="#bfbfbf"/>
<circle cx="338.4" cy="866.9" r="5.5" fill="#bfbfbf"/>
<circle cx="328.4" cy="876.0" r="5.5" fill="#bfbfbf"/>
<circle cx="333.1" cy="874.5" r="5.5" fill="#bfbfbf"/>
<circle cx="349.2" cy="875.6" r="5.5" fill="#bfbfbf"/>
<circle cx="354.2" cy="879.4" r="5.5" fill="#bfbfbf"/>
<circle cx="340.8" cy="878.0" r="5.5" fill="#bfbfbf"/>
<circle cx="336.0" cy="884.0" r="5.5" fill="#bfbfbf"/>
<circle cx="346.0" cy="884.0" r="5.5" fill="#bfbfbf"/>
<circle cx="341.0" cy="890.0" r="5.5" fill="#bfbfbf"/>
<circle cx="334.0" cy="893.0" r="5.5" fill="#bfbfbf"/>
<circle cx="348.0" cy="893.0" r="5.5" fill="#bfbfbf"/>
<circle cx="340.0" cy="898.0" r="5.5" fill="#bfbfbf"/>
<circle cx="332.0" cy="902.0" r="5.5" fill="#bfbfbf"/>
<circle cx="349.0" cy="903.0" r="5.5" fill="#bfbfbf"/>
<circle cx="336.0" cy="908.0" r="5.5" fill="#bfbfbf"/>
<circle cx="345.0" cy="910.0" r="5.5" fill="#bfbfbf"/>
<circle cx="340.0" cy="916.0" r="5.5" fill="#bfbfbf"/>
<circle cx="333.0" cy="920.0" r="5.5" fill="#bfbfbf"/>
<circle cx="347.0" cy="919.0" r="5.5" fill="#bfbfbf"/>
<circle cx="333.1" cy="927.0" r="5.5" fill="#bfbfbf"/>
<circle cx="344.0" cy="923.2" r="5.5" fill="#bfbfbf"/>
<circle cx="338.4" cy="936.4" r="5.5" fill="#bfbfbf"/>
<circle cx="340.8" cy="957.6" r="5.5" fill="#bfbfbf"/>
<circle cx="333.1" cy="1020.8" r="5.5" fill="#bfbfbf"/>
<circle cx="333.1" cy="1031.4" r="5.5" fill="#bfbfbf"/>
<circle cx="344.0" cy="1030.8" r="5.5" fill="#bfbfbf"/>
<circle cx="349.0" cy="1028.4" r="5.5" fill="#bfbfbf"/>
<circle cx="396.9" cy="1017.1" r="5.5" fill="#bfbfbf"/>
<circle cx="395.8" cy="1038.4" r="5.5" fill="#bfbfbf"/>
<circle cx="400.5" cy="1038.4" r="5.5" fill="#bfbfbf"/>
<circle cx="392.6" cy="1045.0" r="5.5" fill="#bfbfbf"/>
<circle cx="399.2" cy="1045.0" r="5.5" fill="#bfbfbf"/>
<circle cx="390.7" cy="1050.7" r="5.5" fill="#bfbfbf"/>
<circle cx="397.3" cy="1050.7" r="5.5" fill="#bfbfbf"/>
<circle cx="403.0" cy="1050.7" r="5.5" fill="#bfbfbf"/>
<circle cx="388.8" cy="1057.3" r="5.5" fill="#bfbfbf"/>
<circle cx="395.4" cy="1057.3" r="5.5" fill="#bfbfbf"/>
<circle cx="402.0" cy="1057.3" r="5.5" fill="#bfbfbf"/>
<circle cx="406.8" cy="1057.3" r="5.5" fill="#bfbfbf"/>
<circle cx="386.0" cy="1063.9" r="5.5" fill="#bfbfbf"/>
<circle cx="392.6" cy="1063.9" r="5.5" fill="#bfbfbf"/>
<circle cx="399.2" cy="1063.9" r="5.5" fill="#bfbfbf"/>
<circle cx="405.8" cy="1063.9" r="5.5" fill="#bfbfbf"/>
<circle cx="409.6" cy="1063.9" r="5.5" fill="#bfbfbf"/>
<circle cx="385.0" cy="1070.5" r="5.5" fill="#bfbfbf"/>
<circle cx="391.6" cy="1070.5" r="5.5" fill="#bfbfbf"/>
<circle cx="398.3" cy="1070.5" r="5.5" fill="#bfbfbf"/>
<circle cx="404.9" cy="1070.5" r="5.5" fill="#bfbfbf"/>
<circle cx="410.5" cy="1070.5" r="5.5" fill="#bfbfbf"/>
<circle cx="384.5" cy="1077.5" r="5.5" fill="#bfbfbf"/>
<circle cx="393.5" cy="1077.5" r="5.5" fill="#bfbfbf"/>
<circle cx="401.1" cy="1077.5" r="5.5" fill="#bfbfbf"/>
<circle cx="410.2" cy="1077.5" r="5.5" fill="#bfbfbf"/>
<circle cx="389.4" cy="1082.2" r="5.5" fill="#bfbfbf"/>
<circle cx="397.3" cy="1082.2" r="5.5" fill="#bfbfbf"/>
<circle cx="405.2" cy="1082.2" r="5.5" fill="#bfbfbf"/>
<circle cx="452.5" cy="926.2" r="5.5" fill="#00a2d9"/>
<circle cx="449.1" cy="943.5" r="5.5" fill="#00a2d9"/>
<circle cx="455.8" cy="941.9" r="5.5" fill="#00a2d9"/>
<circle cx="452.5" cy="1026.3" r="5.5" fill="#00a2d9"/>
<circle cx="442.4" cy="1033.5" r="5.5" fill="#00a2d9"/>
<circle cx="462.8" cy="1033.5" r="5.5" fill="#00a2d9"/>
<circle cx="447.5" cy="1032.3" r="5.5" fill="#00a2d9"/>
<circle cx="457.7" cy="1032.3" r="5.5" fill="#00a2d9"/>
<circle cx="439.2" cy="1038.0" r="5.5" fill="#00a2d9"/>
<circle cx="445.6" cy="1038.0" r="5.5" fill="#00a2d9"/>
<circle cx="451.9" cy="1038.0" r="5.5" fill="#00a2d9"/>
<circle cx="458.3" cy="1038.0" r="5.5" fill="#00a2d9"/>
<circle cx="466.0" cy="1038.7" r="5.5" fill="#00a2d9"/>
<circle cx="437.9" cy="1043.8" r="5.5" fill="#00a2d9"/>
<circle cx="445.6" cy="1043.8" r="5.5" fill="#00a2d9"/>
<circle cx="451.9" cy="1043.8" r="5.5" fill="#00a2d9"/>
<circle cx="458.3" cy="1043.8" r="5.5" fill="#00a2d9"/>
<circle cx="466.6" cy="1043.8" r="5.5" fill="#00a2d9"/>
<circle cx="440.4" cy="1048.5" r="5.5" fill="#00a2d9"/>
<circle cx="464.1" cy="1048.5" r="5.5" fill="#00a2d9"/>
<circle cx="445.6" cy="1051.8" r="5.5" fill="#00a2d9"/>
<circle cx="451.9" cy="1051.8" r="5.5" fill="#00a2d9"/>
<circle cx="458.3" cy="1051.8" r="5.5" fill="#00a2d9"/>
<circle cx="442.4" cy="1057.4" r="5.5" fill="#00a2d9"/>
<circle cx="451.9" cy="1057.4" r="5.5" fill="#00a2d9"/>
<circle cx="462.2" cy="1057.4" r="5.5" fill="#00a2d9"/>
<circle cx="437.9" cy="1062.6" r="5.5" fill="#00a2d9"/>
<circle cx="466.0" cy="1062.6" r="5.5" fill="#00a2d9"/>
<circle cx="447.5" cy="1064.9" r="5.5" fill="#00a2d9"/>
<circle cx="449.4" cy="1071.9" r="5.5" fill="#00a2d9"/>
<circle cx="455.1" cy="1071.9" r="5.5" fill="#00a2d9"/>
<circle cx="460.9" cy="1075.3" r="5.5" fill="#00a2d9"/>
<circle cx="443.6" cy="1077.0" r="5.5" fill="#00a2d9"/>
<circle cx="457.1" cy="1083.6" r="5.5" fill="#00a2d9"/>
<circle cx="508.2" cy="995.6" r="5.5" fill="#00a2d9"/>
<circle cx="510.1" cy="1022.0" r="5.5" fill="#00a2d9"/>
<circle cx="506.3" cy="1029.1" r="5.5" fill="#00a2d9"/>
<circle cx="508.2" cy="1035.5" r="5.5" fill="#00a2d9"/>
<circle cx="506.3" cy="1042.5" r="5.5" fill="#00a2d9"/>
<circle cx="508.8" cy="1048.2" r="5.5" fill="#00a2d9"/>
<circle cx="505.0" cy="1053.4" r="5.5" fill="#00a2d9"/>
<circle cx="511.4" cy="1053.4" r="5.5" fill="#00a2d9"/>
<circle cx="499.9" cy="1059.1" r="5.5" fill="#00a2d9"/>
<circle cx="506.3" cy="1059.1" r="5.5" fill="#00a2d9"/>
<circle cx="512.7" cy="1059.1" r="5.5" fill="#00a2d9"/>
<circle cx="517.1" cy="1059.1" r="5.5" fill="#00a2d9"/>
<circle cx="496.7" cy="1064.9" r="5.5" fill="#00a2d9"/>
<circle cx="502.4" cy="1064.9" r="5.5" fill="#00a2d9"/>
<circle cx="508.2" cy="1064.9" r="5.5" fill="#00a2d9"/>
<circle cx="513.9" cy="1064.9" r="5.5" fill="#00a2d9"/>
<circle cx="519.7" cy="1064.9" r="5.5" fill="#00a2d9"/>
<circle cx="496.0" cy="1070.0" r="5.5" fill="#00a2d9"/>
<circle cx="501.8" cy="1070.0" r="5.5" fill="#00a2d9"/>
<circle cx="507.5" cy="1070.0" r="5.5" fill="#00a2d9"/>
<circle cx="513.3" cy="1070.0" r="5.5" fill="#00a2d9"/>
<circle cx="520.3" cy="1070.0" r="5.5" fill="#00a2d9"/>
<circle cx="499.9" cy="1075.7" r="5.5" fill="#00a2d9"/>
<circle cx="505.6" cy="1075.7" r="5.5" fill="#00a2d9"/>
<circle cx="511.4" cy="1075.7" r="5.5" fill="#00a2d9"/>
<circle cx="517.1" cy="1075.7" r="5.5" fill="#00a2d9"/>
<circle cx="501.8" cy="1081.2" r="5.5" fill="#00a2d9"/>
<circle cx="515.2" cy="1081.2" r="5.5" fill="#00a2d9"/>
<circle cx="508.2" cy="1083.6" r="5.5" fill="#00a2d9"/>
<circle cx="563.6" cy="935.1" r="5.5" fill="#d9267f"/>
<circle cx="565.0" cy="1020.1" r="5.5" fill="#d9267f"/>
<circle cx="558.7" cy="1025.9" r="5.5" fill="#d9267f"/>
<circle cx="565.0" cy="1025.9" r="5.5" fill="#d9267f"/>
<circle cx="557.4" cy="1032.3" r="5.5" fill="#d9267f"/>
<circle cx="563.1" cy="1032.3" r="5.5" fill="#d9267f"/>
<circle cx="568.9" cy="1032.3" r="5.5" fill="#d9267f"/>
<circle cx="556.1" cy="1038.7" r="5.5" fill="#d9267f"/>
<circle cx="561.9" cy="1038.7" r="5.5" fill="#d9267f"/>
<circle cx="567.0" cy="1038.7" r="5.5" fill="#d9267f"/>
<circle cx="571.4" cy="1038.7" r="5.5" fill="#d9267f"/>
<circle cx="554.2" cy="1045.0" r="5.5" fill="#d9267f"/>
<circle cx="559.9" cy="1045.0" r="5.5" fill="#d9267f"/>
<circle cx="565.7" cy="1045.0" r="5.5" fill="#d9267f"/>
<circle cx="572.1" cy="1045.0" r="5.5" fill="#d9267f"/>
<circle cx="552.9" cy="1051.4" r="5.5" fill="#d9267f"/>
<circle cx="558.7" cy="1051.4" r="5.5" fill="#d9267f"/>
<circle cx="564.4" cy="1051.4" r="5.5" fill="#d9267f"/>
<circle cx="570.2" cy="1051.4" r="5.5" fill="#d9267f"/>
<circle cx="574.6" cy="1051.4" r="5.5" fill="#d9267f"/>
<circle cx="551.6" cy="1058.5" r="5.5" fill="#d9267f"/>
<circle cx="557.4" cy="1058.5" r="5.5" fill="#d9267f"/>
<circle cx="563.1" cy="1058.5" r="5.5" fill="#d9267f"/>
<circle cx="568.9" cy="1058.5" r="5.5" fill="#d9267f"/>
<circle cx="575.3" cy="1058.5" r="5.5" fill="#d9267f"/>
<circle cx="551.6" cy="1064.9" r="5.5" fill="#d9267f"/>
<circle cx="557.4" cy="1064.9" r="5.5" fill="#d9267f"/>
<circle cx="563.8" cy="1064.9" r="5.5" fill="#d9267f"/>
<circle cx="569.5" cy="1064.9" r="5.5" fill="#d9267f"/>
<circle cx="575.9" cy="1064.9" r="5.5" fill="#d9267f"/>
<circle cx="552.3" cy="1070.6" r="5.5" fill="#d9267f"/>
<circle cx="558.0" cy="1070.6" r="5.5" fill="#d9267f"/>
<circle cx="563.8" cy="1070.6" r="5.5" fill="#d9267f"/>
<circle cx="570.2" cy="1070.6" r="5.5" fill="#d9267f"/>
<circle cx="575.3" cy="1070.6" r="5.5" fill="#d9267f"/>
<circle cx="553.5" cy="1075.7" r="5.5" fill="#d9267f"/>
<circle cx="559.3" cy="1075.7" r="5.5" fill="#d9267f"/>
<circle cx="565.7" cy="1075.7" r="5.5" fill="#d9267f"/>
<circle cx="572.1" cy="1075.7" r="5.5" fill="#d9267f"/>
<circle cx="561.2" cy="1080.4" r="5.5" fill="#d9267f"/>
<circle cx="570.2" cy="1080.4" r="5.5" fill="#d9267f"/>
<circle cx="619.4" cy="933.5" r="5.5" fill="#d9267f"/>
<circle cx="619.4" cy="998.1" r="5.5" fill="#d9267f"/>
<circle cx="619.4" cy="1010.5" r="5.5" fill="#d9267f"/>
<circle cx="617.4" cy="1027.2" r="5.5" fill="#d9267f"/>
<circle cx="621.9" cy="1025.2" r="5.5" fill="#d9267f"/>
<circle cx="619.4" cy="1038.7" r="5.5" fill="#d9267f"/>
<circle cx="614.2" cy="1044.4" r="5.5" fill="#d9267f"/>
<circle cx="619.4" cy="1044.4" r="5.5" fill="#d9267f"/>
<circle cx="624.5" cy="1044.4" r="5.5" fill="#d9267f"/>
<circle cx="611.7" cy="1050.8" r="5.5" fill="#d9267f"/>
<circle cx="617.4" cy="1050.8" r="5.5" fill="#d9267f"/>
<circle cx="623.2" cy="1050.8" r="5.5" fill="#d9267f"/>
<circle cx="627.7" cy="1050.8" r="5.5" fill="#d9267f"/>
<circle cx="610.4" cy="1057.2" r="5.5" fill="#d9267f"/>
<circle cx="615.5" cy="1057.2" r="5.5" fill="#d9267f"/>
<circle cx="621.3" cy="1057.2" r="5.5" fill="#d9267f"/>
<circle cx="627.0" cy="1057.2" r="5.5" fill="#d9267f"/>
<circle cx="630.9" cy="1057.2" r="5.5" fill="#d9267f"/>
<circle cx="607.2" cy="1063.6" r="5.5" fill="#d9267f"/>
<circle cx="613.0" cy="1063.6" r="5.5" fill="#d9267f"/>
<circle cx="618.7" cy="1063.6" r="5.5" fill="#d9267f"/>
<circle cx="624.5" cy="1063.6" r="5.5" fill="#d9267f"/>
<circle cx="630.2" cy="1063.6" r="5.5" fill="#d9267f"/>
<circle cx="632.4" cy="1066.1" r="5.5" fill="#d9267f"/>
<circle cx="609.1" cy="1070.0" r="5.5" fill="#d9267f"/>
<circle cx="615.5" cy="1070.0" r="5.5" fill="#d9267f"/>
<circle cx="624.5" cy="1070.0" r="5.5" fill="#d9267f"/>
<circle cx="630.9" cy="1070.0" r="5.5" fill="#d9267f"/>
<circle cx="619.4" cy="1076.4" r="5.5" fill="#d9267f"/>
<circle cx="614.9" cy="1083.6" r="5.5" fill="#d9267f"/>
<circle cx="623.8" cy="1083.6" r="5.5" fill="#d9267f"/>
<line x1="262.90" y1="1068.10" x2="308.30" y2="1068.10" stroke="#000" stroke-width="8.2" stroke-linecap="butt" />
<line x1="285.60" y1="1066.50" x2="285.60" y2="1069.70" stroke="#000" stroke-width="5.1" stroke-linecap="butt" />
<line x1="276.70" y1="1066.50" x2="294.50" y2="1066.50" stroke="#000" stroke-width="5.4" stroke-linecap="round" />
<line x1="276.70" y1="1069.70" x2="294.50" y2="1069.70" stroke="#000" stroke-width="5.4" stroke-linecap="round" />
<line x1="318.50" y1="901.10" x2="363.90" y2="901.10" stroke="#000" stroke-width="8.2" stroke-linecap="butt" />
<line x1="341.20" y1="887.30" x2="341.20" y2="914.50" stroke="#000" stroke-width="5.1" stroke-linecap="butt" />
<line x1="332.30" y1="887.30" x2="350.10" y2="887.30" stroke="#000" stroke-width="5.4" stroke-linecap="round" />
<line x1="332.30" y1="914.50" x2="350.10" y2="914.50" stroke="#000" stroke-width="5.4" stroke-linecap="round" />
<line x1="374.10" y1="1062.00" x2="419.50" y2="1062.00" stroke="#000" stroke-width="8.2" stroke-linecap="butt" />
<line x1="396.80" y1="1060.00" x2="396.80" y2="1064.00" stroke="#000" stroke-width="5.1" stroke-linecap="butt" />
<line x1="387.90" y1="1060.00" x2="405.70" y2="1060.00" stroke="#000" stroke-width="5.4" stroke-linecap="round" />
<line x1="387.90" y1="1064.00" x2="405.70" y2="1064.00" stroke="#000" stroke-width="5.4" stroke-linecap="round" />
<line x1="429.90" y1="1041.50" x2="475.30" y2="1041.50" stroke="#000" stroke-width="8.2" stroke-linecap="butt" />
<line x1="452.60" y1="1035.60" x2="452.60" y2="1047.50" stroke="#000" stroke-width="5.1" stroke-linecap="butt" />
<line x1="443.70" y1="1035.60" x2="461.50" y2="1035.60" stroke="#000" stroke-width="5.4" stroke-linecap="round" />
<line x1="443.70" y1="1047.50" x2="461.50" y2="1047.50" stroke="#000" stroke-width="5.4" stroke-linecap="round" />
<line x1="485.40" y1="1060.80" x2="530.80" y2="1060.80" stroke="#000" stroke-width="8.2" stroke-linecap="butt" />
<line x1="508.10" y1="1057.50" x2="508.10" y2="1064.20" stroke="#000" stroke-width="5.1" stroke-linecap="butt" />
<line x1="499.20" y1="1057.50" x2="517.00" y2="1057.50" stroke="#000" stroke-width="5.4" stroke-linecap="round" />
<line x1="499.20" y1="1064.20" x2="517.00" y2="1064.20" stroke="#000" stroke-width="5.4" stroke-linecap="round" />
<line x1="541.10" y1="1053.20" x2="586.50" y2="1053.20" stroke="#000" stroke-width="8.2" stroke-linecap="butt" />
<line x1="563.80" y1="1050.20" x2="563.80" y2="1056.20" stroke="#000" stroke-width="5.1" stroke-linecap="butt" />
<line x1="554.90" y1="1050.20" x2="572.70" y2="1050.20" stroke="#000" stroke-width="5.4" stroke-linecap="round" />
<line x1="554.90" y1="1056.20" x2="572.70" y2="1056.20" stroke="#000" stroke-width="5.4" stroke-linecap="round" />
<line x1="596.80" y1="1051.10" x2="642.20" y2="1051.10" stroke="#000" stroke-width="8.2" stroke-linecap="butt" />
<line x1="619.50" y1="1044.60" x2="619.50" y2="1057.00" stroke="#000" stroke-width="5.1" stroke-linecap="butt" />
<line x1="610.60" y1="1044.60" x2="628.40" y2="1044.60" stroke="#000" stroke-width="5.4" stroke-linecap="round" />
<line x1="610.60" y1="1057.00" x2="628.40" y2="1057.00" stroke="#000" stroke-width="5.4" stroke-linecap="round" />
<line x1="249.80" y1="715.40" x2="249.80" y2="1127.70" stroke="#000" stroke-width="5.3" stroke-linecap="butt" />
<line x1="227.50" y1="1125.10" x2="657.20" y2="1125.10" stroke="#000" stroke-width="5.3" stroke-linecap="butt" />
<line x1="227.50" y1="1125.10" x2="249.80" y2="1125.10" stroke="#000" stroke-width="5.3" stroke-linecap="butt" />
<text x="218.50" y="1136.00" font-size="31" font-weight="bold" font-style="normal" text-anchor="end" fill="#000"  stroke="#000" stroke-width="0.45">0</text>
<line x1="227.50" y1="1066.94" x2="249.80" y2="1066.94" stroke="#000" stroke-width="5.3" stroke-linecap="butt" />
<text x="218.50" y="1077.84" font-size="31" font-weight="bold" font-style="normal" text-anchor="end" fill="#000"  stroke="#000" stroke-width="0.45">1</text>
<line x1="227.50" y1="1008.78" x2="249.80" y2="1008.78" stroke="#000" stroke-width="5.3" stroke-linecap="butt" />
<text x="218.50" y="1019.68" font-size="31" font-weight="bold" font-style="normal" text-anchor="end" fill="#000"  stroke="#000" stroke-width="0.45">2</text>
<line x1="227.50" y1="950.62" x2="249.80" y2="950.62" stroke="#000" stroke-width="5.3" stroke-linecap="butt" />
<text x="218.50" y="961.52" font-size="31" font-weight="bold" font-style="normal" text-anchor="end" fill="#000"  stroke="#000" stroke-width="0.45">3</text>
<line x1="227.50" y1="892.46" x2="249.80" y2="892.46" stroke="#000" stroke-width="5.3" stroke-linecap="butt" />
<text x="218.50" y="903.36" font-size="31" font-weight="bold" font-style="normal" text-anchor="end" fill="#000"  stroke="#000" stroke-width="0.45">4</text>
<line x1="227.50" y1="834.30" x2="249.80" y2="834.30" stroke="#000" stroke-width="5.3" stroke-linecap="butt" />
<text x="218.50" y="845.20" font-size="31" font-weight="bold" font-style="normal" text-anchor="end" fill="#000"  stroke="#000" stroke-width="0.45">5</text>
<line x1="227.50" y1="776.14" x2="249.80" y2="776.14" stroke="#000" stroke-width="5.3" stroke-linecap="butt" />
<text x="218.50" y="787.04" font-size="31" font-weight="bold" font-style="normal" text-anchor="end" fill="#000"  stroke="#000" stroke-width="0.45">6</text>
<line x1="227.50" y1="717.98" x2="249.80" y2="717.98" stroke="#000" stroke-width="5.3" stroke-linecap="butt" />
<text x="218.50" y="728.88" font-size="31" font-weight="bold" font-style="normal" text-anchor="end" fill="#000"  stroke="#000" stroke-width="0.45">7</text>
<line x1="236.30" y1="1096.02" x2="249.80" y2="1096.02" stroke="#000" stroke-width="5.3" stroke-linecap="butt" />
<line x1="236.30" y1="1037.86" x2="249.80" y2="1037.86" stroke="#000" stroke-width="5.3" stroke-linecap="butt" />
<line x1="236.30" y1="979.70" x2="249.80" y2="979.70" stroke="#000" stroke-width="5.3" stroke-linecap="butt" />
<line x1="236.30" y1="921.54" x2="249.80" y2="921.54" stroke="#000" stroke-width="5.3" stroke-linecap="butt" />
<line x1="236.30" y1="863.38" x2="249.80" y2="863.38" stroke="#000" stroke-width="5.3" stroke-linecap="butt" />
<line x1="236.30" y1="805.22" x2="249.80" y2="805.22" stroke="#000" stroke-width="5.3" stroke-linecap="butt" />
<line x1="236.30" y1="747.06" x2="249.80" y2="747.06" stroke="#000" stroke-width="5.3" stroke-linecap="butt" />
<line x1="285.50" y1="1125.10" x2="285.50" y2="1148.50" stroke="#000" stroke-width="5.3" stroke-linecap="butt" />
<line x1="340.90" y1="1125.10" x2="340.90" y2="1148.50" stroke="#000" stroke-width="5.3" stroke-linecap="butt" />
<line x1="396.50" y1="1125.10" x2="396.50" y2="1148.50" stroke="#000" stroke-width="5.3" stroke-linecap="butt" />
<line x1="452.20" y1="1125.10" x2="452.20" y2="1148.50" stroke="#000" stroke-width="5.3" stroke-linecap="butt" />
<line x1="507.80" y1="1125.10" x2="507.80" y2="1148.50" stroke="#000" stroke-width="5.3" stroke-linecap="butt" />
<line x1="563.40" y1="1125.10" x2="563.40" y2="1148.50" stroke="#000" stroke-width="5.3" stroke-linecap="butt" />
<line x1="619.10" y1="1125.10" x2="619.10" y2="1148.50" stroke="#000" stroke-width="5.3" stroke-linecap="butt" />
<text transform="translate(177.00 927.30) rotate(-90)" font-size="36" font-weight="bold" font-style="normal" text-anchor="middle" fill="#000"  stroke="#000" stroke-width="0.45">Venus / mCherry</text>
<text transform="translate(294.50 1176.00) rotate(-45)" font-size="34.5" font-weight="bold" font-style="normal" text-anchor="end" fill="#000"  stroke="#000" stroke-width="0.45">Wild Type</text>
<text transform="translate(349.90 1176.00) rotate(-45)" font-size="33.9" font-weight="bold" font-style="italic" text-anchor="end" fill="#000"  stroke="#000" stroke-width="0.45">egl-9(sa307)</text>
<text transform="translate(405.50 1176.00) rotate(-45)" font-size="33.9" font-weight="bold" font-style="italic" text-anchor="end" fill="#000"  stroke="#000" stroke-width="0.45">egl-9(sa307); hif-1(ia4)</text>
<text transform="translate(461.20 1176.00) rotate(-45)" font-size="34.5" font-weight="bold" font-style="normal" text-anchor="end" fill="#000"  stroke="#000" stroke-width="0.45">Wild Type</text>
<text transform="translate(516.80 1176.00) rotate(-45)" font-size="33.9" font-weight="bold" font-style="italic" text-anchor="end" fill="#000"  stroke="#000" stroke-width="0.45">egl-9(sa307)</text>
<text transform="translate(572.40 1176.00) rotate(-45)" font-size="34.5" font-weight="bold" font-style="normal" text-anchor="end" fill="#000"  stroke="#000" stroke-width="0.45">Wild Type</text>
<text transform="translate(628.10 1176.00) rotate(-45)" font-size="33.9" font-weight="bold" font-style="italic" text-anchor="end" fill="#000"  stroke="#000" stroke-width="0.45">egl-9(sa307)</text>
<path d="M285.9,1007.2 V708.2 H397.3 V1007.2 M340.6,708.2 V735.6" fill="none" stroke="#000" stroke-width="2.8"/>
<path d="M451.8,898.7 V867.3 H508.7 V962.0" fill="none" stroke="#000" stroke-width="2.8"/>
<text x="342.90" y="708.70" font-size="39" font-weight="bold" font-style="normal" text-anchor="middle" fill="#000" letter-spacing="1.9" stroke="#000" stroke-width="0.45">***</text>
<text x="481.40" y="874.80" font-size="39" font-weight="bold" font-style="normal" text-anchor="middle" fill="#000"  stroke="#000" stroke-width="0.45">*</text>
</g>
<g id="panel-i">
<text x="813.20" y="671.90" font-size="46.5" font-weight="bold" font-style="normal" text-anchor="start" fill="#000"  stroke="#000" stroke-width="0.45">i</text>
<path d="M1102.5,699.5 V1232.8" fill="none" stroke="#0433ff" stroke-width="3.1" stroke-dasharray="0.01 5.46" stroke-linecap="round"/>
<path d="M1107.2,698.8 H1752.5" fill="none" stroke="#0433ff" stroke-width="3.1" stroke-dasharray="0.01 5.46" stroke-linecap="round"/>
<path d="M1754.1,686.5 L1776,698.75 L1754.1,711 Z" fill="#0433ff"/>
<text x="1117.80" y="689.80" font-size="36.5" font-weight="bold" font-style="italic" text-anchor="start" fill="#0433ff"  stroke="#0433ff" stroke-width="0.45">HOT Sites</text>
<defs><clipPath id="vclip"><rect x="966" y="690" width="900" height="560"/></clipPath></defs>
<path d="M964.50,789.90 C965.42,788.98 967.75,785.82 970.00,784.40 C972.25,782.98 975.08,782.12 978.00,781.40 C980.92,780.68 983.83,780.10 987.50,780.10 C991.17,780.10 994.58,780.90 1000.00,781.40 C1005.42,781.90 1013.33,782.93 1020.00,783.10 C1026.67,783.27 1032.92,782.77 1040.00,782.40 C1047.08,782.03 1054.17,782.12 1062.50,780.90 C1070.83,779.68 1082.58,776.63 1090.00,775.10 C1097.42,773.57 1102.00,772.45 1107.00,771.70 C1112.00,770.95 1115.00,770.32 1120.00,770.60 C1125.00,770.88 1131.17,772.57 1137.00,773.40 C1142.83,774.23 1148.67,775.93 1155.00,775.60 C1161.33,775.27 1167.50,773.57 1175.00,771.40 C1182.50,769.23 1191.67,764.68 1200.00,762.60 C1208.33,760.52 1217.28,760.15 1225.00,758.90 C1232.72,757.65 1239.30,756.35 1246.30,755.10 C1253.30,753.85 1260.55,752.23 1267.00,751.40 C1273.45,750.57 1279.50,750.02 1285.00,750.10 C1290.50,750.18 1295.42,750.85 1300.00,751.90 C1304.58,752.95 1307.92,754.62 1312.50,756.40 C1317.08,758.18 1320.42,760.18 1327.50,762.60 C1334.58,765.02 1345.00,768.68 1355.00,770.90 C1365.00,773.12 1379.17,774.20 1387.50,775.90 C1395.83,777.60 1397.92,778.98 1405.00,781.10 C1412.08,783.22 1421.67,787.10 1430.00,788.60 C1438.33,790.10 1446.67,789.77 1455.00,790.10 C1463.33,790.43 1471.67,789.97 1480.00,790.60 C1488.33,791.23 1496.67,792.65 1505.00,793.90 C1513.33,795.15 1522.83,797.03 1530.00,798.10 C1537.17,799.17 1543.00,799.77 1548.00,800.30 C1553.00,800.83 1558.00,801.13 1560.00,801.30 L1560.00,802.50 C1558.00,802.67 1553.00,802.97 1548.00,803.50 C1543.00,804.03 1537.17,804.63 1530.00,805.70 C1522.83,806.77 1513.33,808.65 1505.00,809.90 C1496.67,811.15 1488.33,812.57 1480.00,813.20 C1471.67,813.83 1463.33,813.37 1455.00,813.70 C1446.67,814.03 1438.33,813.70 1430.00,815.20 C1421.67,816.70 1412.08,820.58 1405.00,822.70 C1397.92,824.82 1395.83,826.20 1387.50,827.90 C1379.17,829.60 1365.00,830.68 1355.00,832.90 C1345.00,835.12 1334.58,838.78 1327.50,841.20 C1320.42,843.62 1317.08,845.62 1312.50,847.40 C1307.92,849.18 1304.58,850.85 1300.00,851.90 C1295.42,852.95 1290.50,853.62 1285.00,853.70 C1279.50,853.78 1273.45,853.23 1267.00,852.40 C1260.55,851.57 1253.30,849.95 1246.30,848.70 C1239.30,847.45 1232.72,846.15 1225.00,844.90 C1217.28,843.65 1208.33,843.28 1200.00,841.20 C1191.67,839.12 1182.50,834.57 1175.00,832.40 C1167.50,830.23 1161.33,828.53 1155.00,828.20 C1148.67,827.87 1142.83,829.57 1137.00,830.40 C1131.17,831.23 1125.00,832.92 1120.00,833.20 C1115.00,833.48 1112.00,832.85 1107.00,832.10 C1102.00,831.35 1097.42,830.23 1090.00,828.70 C1082.58,827.17 1070.83,824.12 1062.50,822.90 C1054.17,821.68 1047.08,821.77 1040.00,821.40 C1032.92,821.03 1026.67,820.53 1020.00,820.70 C1013.33,820.87 1005.42,821.90 1000.00,822.40 C994.58,822.90 991.17,823.70 987.50,823.70 C983.83,823.70 980.92,823.12 978.00,822.40 C975.08,821.68 972.25,820.82 970.00,819.40 C967.75,817.98 965.42,814.82 964.50,813.90 Z" fill="#ebebeb" stroke="#000" stroke-width="4.4" stroke-linejoin="round" clip-path="url(#vclip)"/>
<line x1="1555.00" y1="801.90" x2="1779.60" y2="801.90" stroke="#000" stroke-width="5.4" stroke-linecap="butt" />
<line x1="1246.60" y1="757.50" x2="1246.60" y2="846.30" stroke="#000" stroke-width="7.2" stroke-linecap="butt" />
<circle cx="1122.2" cy="779.3" r="2.7" fill="#000"/>
<circle cx="1122.2" cy="790.1" r="2.7" fill="#000"/>
<circle cx="1122.2" cy="801.0" r="2.7" fill="#000"/>
<circle cx="1122.2" cy="811.8" r="2.7" fill="#000"/>
<circle cx="1122.2" cy="822.8" r="2.7" fill="#000"/>
<circle cx="1327.6" cy="765.8" r="2.7" fill="#000"/>
<circle cx="1327.6" cy="776.5" r="2.7" fill="#000"/>
<circle cx="1327.6" cy="787.5" r="2.7" fill="#000"/>
<circle cx="1327.6" cy="798.3" r="2.7" fill="#000"/>
<circle cx="1327.6" cy="809.3" r="2.7" fill="#000"/>
<circle cx="1327.6" cy="820.0" r="2.7" fill="#000"/>
<circle cx="1327.6" cy="831.0" r="2.7" fill="#000"/>
<path d="M964.50,926.70 C965.25,925.87 967.25,923.20 969.00,921.70 C970.75,920.20 972.75,918.70 975.00,917.70 C977.25,916.70 978.33,915.75 982.50,915.70 C986.67,915.65 993.75,916.82 1000.00,917.40 C1006.25,917.98 1014.17,919.12 1020.00,919.20 C1025.83,919.28 1030.00,918.48 1035.00,917.90 C1040.00,917.32 1042.50,916.40 1050.00,915.70 C1057.50,915.00 1072.50,914.03 1080.00,913.70 C1087.50,913.37 1090.83,913.50 1095.00,913.70 C1099.17,913.90 1100.00,913.53 1105.00,914.90 C1110.00,916.27 1117.50,918.35 1125.00,921.90 C1132.50,925.45 1143.33,932.48 1150.00,936.20 C1156.67,939.92 1160.83,942.25 1165.00,944.20 C1169.17,946.15 1170.83,947.07 1175.00,947.90 C1179.17,948.73 1185.00,949.32 1190.00,949.20 C1195.00,949.08 1199.17,948.33 1205.00,947.20 C1210.83,946.07 1215.42,943.82 1225.00,942.40 C1234.58,940.98 1253.33,939.90 1262.50,938.70 C1271.67,937.50 1273.75,936.45 1280.00,935.20 C1286.25,933.95 1295.00,931.92 1300.00,931.20 C1305.00,930.48 1306.67,930.62 1310.00,930.90 C1313.33,931.18 1315.83,931.60 1320.00,932.90 C1324.17,934.20 1330.00,936.70 1335.00,938.70 C1340.00,940.70 1343.33,942.65 1350.00,944.90 C1356.67,947.15 1366.67,950.57 1375.00,952.20 C1383.33,953.83 1390.83,954.15 1400.00,954.70 C1409.17,955.25 1416.67,955.03 1430.00,955.50 C1443.33,955.97 1467.50,956.93 1480.00,957.50 C1492.50,958.07 1496.67,958.23 1505.00,958.90 C1513.33,959.57 1522.83,960.73 1530.00,961.50 C1537.17,962.27 1543.00,963.03 1548.00,963.50 C1553.00,963.97 1558.00,964.17 1560.00,964.30 L1560.00,965.10 C1558.00,965.23 1553.00,965.43 1548.00,965.90 C1543.00,966.37 1537.17,967.13 1530.00,967.90 C1522.83,968.67 1513.33,969.83 1505.00,970.50 C1496.67,971.17 1492.50,971.33 1480.00,971.90 C1467.50,972.47 1443.33,973.43 1430.00,973.90 C1416.67,974.37 1409.17,974.15 1400.00,974.70 C1390.83,975.25 1383.33,975.57 1375.00,977.20 C1366.67,978.83 1356.67,982.25 1350.00,984.50 C1343.33,986.75 1340.00,988.70 1335.00,990.70 C1330.00,992.70 1324.17,995.20 1320.00,996.50 C1315.83,997.80 1313.33,998.22 1310.00,998.50 C1306.67,998.78 1305.00,998.92 1300.00,998.20 C1295.00,997.48 1286.25,995.45 1280.00,994.20 C1273.75,992.95 1271.67,991.90 1262.50,990.70 C1253.33,989.50 1234.58,988.42 1225.00,987.00 C1215.42,985.58 1210.83,983.33 1205.00,982.20 C1199.17,981.07 1195.00,980.32 1190.00,980.20 C1185.00,980.08 1179.17,980.67 1175.00,981.50 C1170.83,982.33 1169.17,983.25 1165.00,985.20 C1160.83,987.15 1156.67,989.48 1150.00,993.20 C1143.33,996.92 1132.50,1003.95 1125.00,1007.50 C1117.50,1011.05 1110.00,1013.13 1105.00,1014.50 C1100.00,1015.87 1099.17,1015.50 1095.00,1015.70 C1090.83,1015.90 1087.50,1016.03 1080.00,1015.70 C1072.50,1015.37 1057.50,1014.40 1050.00,1013.70 C1042.50,1013.00 1040.00,1012.08 1035.00,1011.50 C1030.00,1010.92 1025.83,1010.12 1020.00,1010.20 C1014.17,1010.28 1006.25,1011.42 1000.00,1012.00 C993.75,1012.58 986.67,1013.75 982.50,1013.70 C978.33,1013.65 977.25,1012.70 975.00,1011.70 C972.75,1010.70 970.75,1009.20 969.00,1007.70 C967.25,1006.20 965.25,1003.53 964.50,1002.70 Z" fill="#76ac42" stroke="#000" stroke-width="4.4" stroke-linejoin="round" clip-path="url(#vclip)"/>
<line x1="1550.00" y1="964.70" x2="1625.30" y2="964.70" stroke="#000" stroke-width="5.4" stroke-linecap="round" />
<line x1="1111.30" y1="917.00" x2="1111.30" y2="1012.50" stroke="#000" stroke-width="7.4" stroke-linecap="butt" />
<circle cx="1038.8" cy="923.8" r="2.7" fill="#000"/>
<circle cx="1038.8" cy="935.0" r="2.7" fill="#000"/>
<circle cx="1038.8" cy="946.3" r="2.7" fill="#000"/>
<circle cx="1038.8" cy="957.0" r="2.7" fill="#000"/>
<circle cx="1038.8" cy="968.0" r="2.7" fill="#000"/>
<circle cx="1038.8" cy="978.8" r="2.7" fill="#000"/>
<circle cx="1038.8" cy="989.5" r="2.7" fill="#000"/>
<circle cx="1038.8" cy="1000.0" r="2.7" fill="#000"/>
<circle cx="1273.3" cy="938.8" r="2.7" fill="#000"/>
<circle cx="1273.3" cy="950.0" r="2.7" fill="#000"/>
<circle cx="1273.3" cy="960.8" r="2.7" fill="#000"/>
<circle cx="1273.3" cy="971.3" r="2.7" fill="#000"/>
<circle cx="1273.3" cy="982.5" r="2.7" fill="#000"/>
<path d="M964.50,1093.00 C965.25,1092.00 967.08,1088.83 969.00,1087.00 C970.92,1085.17 973.33,1083.30 976.00,1082.00 C978.67,1080.70 981.00,1079.37 985.00,1079.20 C989.00,1079.03 993.33,1080.12 1000.00,1081.00 C1006.67,1081.88 1017.50,1084.33 1025.00,1084.50 C1032.50,1084.67 1038.75,1082.97 1045.00,1082.00 C1051.25,1081.03 1055.83,1079.70 1062.50,1078.70 C1069.17,1077.70 1077.92,1076.62 1085.00,1076.00 C1092.08,1075.38 1099.50,1074.83 1105.00,1075.00 C1110.50,1075.17 1113.83,1075.97 1118.00,1077.00 C1122.17,1078.03 1124.67,1078.83 1130.00,1081.20 C1135.33,1083.57 1144.17,1088.48 1150.00,1091.20 C1155.83,1093.92 1160.83,1096.12 1165.00,1097.50 C1169.17,1098.88 1171.33,1099.22 1175.00,1099.50 C1178.67,1099.78 1182.83,1099.62 1187.00,1099.20 C1191.17,1098.78 1191.58,1098.53 1200.00,1097.00 C1208.42,1095.47 1225.00,1091.88 1237.50,1090.00 C1250.00,1088.12 1266.25,1086.78 1275.00,1085.70 C1283.75,1084.62 1285.83,1083.95 1290.00,1083.50 C1294.17,1083.05 1296.67,1082.92 1300.00,1083.00 C1303.33,1083.08 1306.67,1083.33 1310.00,1084.00 C1313.33,1084.67 1315.83,1085.50 1320.00,1087.00 C1324.17,1088.50 1330.00,1091.05 1335.00,1093.00 C1340.00,1094.95 1341.25,1096.37 1350.00,1098.70 C1358.75,1101.03 1378.33,1105.20 1387.50,1107.00 C1396.67,1108.80 1397.92,1108.72 1405.00,1109.50 C1412.08,1110.28 1419.58,1111.00 1430.00,1111.70 C1440.42,1112.40 1457.08,1112.82 1467.50,1113.70 C1477.92,1114.58 1484.17,1115.75 1492.50,1117.00 C1500.83,1118.25 1509.17,1119.87 1517.50,1121.20 C1525.83,1122.53 1536.08,1124.12 1542.50,1125.00 C1548.92,1125.88 1553.75,1126.25 1556.00,1126.50 L1556.00,1127.50 C1553.75,1127.75 1548.92,1128.12 1542.50,1129.00 C1536.08,1129.88 1525.83,1131.47 1517.50,1132.80 C1509.17,1134.13 1500.83,1135.75 1492.50,1137.00 C1484.17,1138.25 1477.92,1139.42 1467.50,1140.30 C1457.08,1141.18 1440.42,1141.60 1430.00,1142.30 C1419.58,1143.00 1412.08,1143.72 1405.00,1144.50 C1397.92,1145.28 1396.67,1145.20 1387.50,1147.00 C1378.33,1148.80 1358.75,1152.97 1350.00,1155.30 C1341.25,1157.63 1340.00,1159.05 1335.00,1161.00 C1330.00,1162.95 1324.17,1165.50 1320.00,1167.00 C1315.83,1168.50 1313.33,1169.33 1310.00,1170.00 C1306.67,1170.67 1303.33,1170.92 1300.00,1171.00 C1296.67,1171.08 1294.17,1170.95 1290.00,1170.50 C1285.83,1170.05 1283.75,1169.38 1275.00,1168.30 C1266.25,1167.22 1250.00,1165.88 1237.50,1164.00 C1225.00,1162.12 1208.42,1158.53 1200.00,1157.00 C1191.58,1155.47 1191.17,1155.22 1187.00,1154.80 C1182.83,1154.38 1178.67,1154.22 1175.00,1154.50 C1171.33,1154.78 1169.17,1155.12 1165.00,1156.50 C1160.83,1157.88 1155.83,1160.08 1150.00,1162.80 C1144.17,1165.52 1135.33,1170.43 1130.00,1172.80 C1124.67,1175.17 1122.17,1175.97 1118.00,1177.00 C1113.83,1178.03 1110.50,1178.83 1105.00,1179.00 C1099.50,1179.17 1092.08,1178.62 1085.00,1178.00 C1077.92,1177.38 1069.17,1176.30 1062.50,1175.30 C1055.83,1174.30 1051.25,1172.97 1045.00,1172.00 C1038.75,1171.03 1032.50,1169.33 1025.00,1169.50 C1017.50,1169.67 1006.67,1172.12 1000.00,1173.00 C993.33,1173.88 989.00,1174.97 985.00,1174.80 C981.00,1174.63 978.67,1173.30 976.00,1172.00 C973.33,1170.70 970.92,1168.83 969.00,1167.00 C967.08,1165.17 965.25,1162.00 964.50,1161.00 Z" fill="#ff7e79" stroke="#000" stroke-width="4.4" stroke-linejoin="round" clip-path="url(#vclip)"/>
<line x1="1550.00" y1="1127.00" x2="1704.00" y2="1127.00" stroke="#000" stroke-width="5.4" stroke-linecap="round" />
<line x1="1147.30" y1="1089.50" x2="1147.30" y2="1166.00" stroke="#000" stroke-width="7.2" stroke-linecap="butt" />
<circle cx="1048.0" cy="1095.5" r="2.7" fill="#000"/>
<circle cx="1048.0" cy="1106.5" r="2.7" fill="#000"/>
<circle cx="1048.0" cy="1117.0" r="2.7" fill="#000"/>
<circle cx="1048.0" cy="1128.0" r="2.7" fill="#000"/>
<circle cx="1048.0" cy="1138.8" r="2.7" fill="#000"/>
<circle cx="1048.0" cy="1149.5" r="2.7" fill="#000"/>
<circle cx="1048.0" cy="1160.0" r="2.7" fill="#000"/>
<circle cx="1300.5" cy="1094.5" r="2.7" fill="#000"/>
<circle cx="1300.5" cy="1105.3" r="2.7" fill="#000"/>
<circle cx="1300.5" cy="1116.0" r="2.7" fill="#000"/>
<circle cx="1300.5" cy="1126.8" r="2.7" fill="#000"/>
<circle cx="1300.5" cy="1137.5" r="2.7" fill="#000"/>
<circle cx="1300.5" cy="1148.5" r="2.7" fill="#000"/>
<circle cx="1300.5" cy="1159.3" r="2.7" fill="#000"/>
<line x1="966.60" y1="693.80" x2="966.60" y2="1258.60" stroke="#000" stroke-width="5.4" stroke-linecap="butt" />
<line x1="963.90" y1="1236.20" x2="1782.50" y2="1236.20" stroke="#000" stroke-width="5.6" stroke-linecap="butt" />
<line x1="966.60" y1="1236.20" x2="966.60" y2="1258.60" stroke="#000" stroke-width="5.4" stroke-linecap="butt" />
<line x1="1011.78" y1="1236.20" x2="1011.78" y2="1248.50" stroke="#000" stroke-width="5.0" stroke-linecap="butt" />
<line x1="1056.96" y1="1236.20" x2="1056.96" y2="1248.50" stroke="#000" stroke-width="5.0" stroke-linecap="butt" />
<line x1="1102.14" y1="1236.20" x2="1102.14" y2="1248.50" stroke="#000" stroke-width="5.0" stroke-linecap="butt" />
<line x1="1147.32" y1="1236.20" x2="1147.32" y2="1248.50" stroke="#000" stroke-width="5.0" stroke-linecap="butt" />
<line x1="1192.50" y1="1236.20" x2="1192.50" y2="1258.60" stroke="#000" stroke-width="5.4" stroke-linecap="butt" />
<line x1="1237.68" y1="1236.20" x2="1237.68" y2="1248.50" stroke="#000" stroke-width="5.0" stroke-linecap="butt" />
<line x1="1282.86" y1="1236.20" x2="1282.86" y2="1248.50" stroke="#000" stroke-width="5.0" stroke-linecap="butt" />
<line x1="1328.04" y1="1236.20" x2="1328.04" y2="1248.50" stroke="#000" stroke-width="5.0" stroke-linecap="butt" />
<line x1="1373.22" y1="1236.20" x2="1373.22" y2="1248.50" stroke="#000" stroke-width="5.0" stroke-linecap="butt" />
<line x1="1418.40" y1="1236.20" x2="1418.40" y2="1258.60" stroke="#000" stroke-width="5.4" stroke-linecap="butt" />
<line x1="1463.58" y1="1236.20" x2="1463.58" y2="1248.50" stroke="#000" stroke-width="5.0" stroke-linecap="butt" />
<line x1="1508.76" y1="1236.20" x2="1508.76" y2="1248.50" stroke="#000" stroke-width="5.0" stroke-linecap="butt" />
<line x1="1553.94" y1="1236.20" x2="1553.94" y2="1248.50" stroke="#000" stroke-width="5.0" stroke-linecap="butt" />
<line x1="1599.12" y1="1236.20" x2="1599.12" y2="1248.50" stroke="#000" stroke-width="5.0" stroke-linecap="butt" />
<line x1="1644.30" y1="1236.20" x2="1644.30" y2="1258.60" stroke="#000" stroke-width="5.4" stroke-linecap="butt" />
<line x1="1689.48" y1="1236.20" x2="1689.48" y2="1248.50" stroke="#000" stroke-width="5.0" stroke-linecap="butt" />
<line x1="1734.66" y1="1236.20" x2="1734.66" y2="1248.50" stroke="#000" stroke-width="5.0" stroke-linecap="butt" />
<line x1="1779.84" y1="1236.20" x2="1779.84" y2="1248.50" stroke="#000" stroke-width="5.0" stroke-linecap="butt" />
<text x="966.60" y="1296.40" font-size="33" font-weight="bold" font-style="normal" text-anchor="middle" fill="#000"  stroke="#000" stroke-width="0.45">0</text>
<text x="1192.50" y="1296.40" font-size="33" font-weight="bold" font-style="normal" text-anchor="middle" fill="#000"  stroke="#000" stroke-width="0.45">25</text>
<text x="1418.40" y="1296.40" font-size="33" font-weight="bold" font-style="normal" text-anchor="middle" fill="#000"  stroke="#000" stroke-width="0.45">50</text>
<text x="1644.30" y="1296.40" font-size="33" font-weight="bold" font-style="normal" text-anchor="middle" fill="#000"  stroke="#000" stroke-width="0.45">75</text>
<text x="1811.20" y="763.30" font-size="36.35" font-weight="bold" font-style="normal" text-anchor="end" fill="#000"  stroke="#000" stroke-width="0.45">All HIF-1 Peaks</text>
<text x="1811.20" y="920.50" font-size="36.35" font-weight="bold" font-style="normal" text-anchor="end" fill="#008c50"  stroke="#008c50" stroke-width="0.45">Only BETA HIF-1 Peaks</text>
<text x="1811.20" y="1081.30" font-size="36.35" font-weight="bold" font-style="normal" text-anchor="end" fill="#ff2600"  stroke="#ff2600" stroke-width="0.45">Only LOA/BETA HIF-1 Peaks</text>
<text transform="translate(905.20 989.00) rotate(-90)" font-size="36" font-weight="bold" font-style="normal" text-anchor="middle" fill="#000"  stroke="#000" stroke-width="0.45">Relative Number of HIF-1</text>
<text transform="translate(948.40 989.00) rotate(-90)" font-size="36" font-weight="bold" font-style="normal" text-anchor="middle" fill="#000"  stroke="#000" stroke-width="0.45">ChIP-Seq Peaks</text>
<text x="1374.00" y="1354.70" font-size="36.25" font-weight="bold" font-style="normal" text-anchor="middle" fill="#000"  stroke="#000" stroke-width="0.45">Instances of Other TF Binding at</text>
<text x="1374.00" y="1396.90" font-size="36.25" font-weight="bold" font-style="normal" text-anchor="middle" fill="#000"  stroke="#000" stroke-width="0.45">HIF-1 ChIP-Seq Peaks</text>
<text x="1373.70" y="1439.40" font-size="36.25" font-weight="bold" font-style="normal" text-anchor="middle" fill="#000"  stroke="#000" stroke-width="0.45">(± 400 bp of Peak Center)</text>
<path d="M1810.9,802.3 H1843.9 V954.1 H1656.6" fill="none" stroke="#000" stroke-width="2.7"/>
<path d="M1656.6,975.4 H1843.9 V1127.0 H1736.3" fill="none" stroke="#000" stroke-width="2.6"/>
<path d="M1874.7,802.3 H1942.4 V1127.0 H1874.7" fill="none" stroke="#000" stroke-width="2.6"/>
<text transform="translate(1856.10 878.40) rotate(90)" font-size="29.5" font-weight="bold" font-style="normal" text-anchor="middle" fill="#000" font-family="DejaVu Sans, Liberation Sans, sans-serif" letter-spacing="0.4" stroke="#000" stroke-width="1.3" stroke-linejoin="round">****</text>
<text transform="translate(1955.20 965.20) rotate(90)" font-size="29.5" font-weight="bold" font-style="normal" text-anchor="middle" fill="#000" font-family="DejaVu Sans, Liberation Sans, sans-serif" letter-spacing="0.4" stroke="#000" stroke-width="1.3" stroke-linejoin="round">****</text>
<text transform="translate(1867.80 1051.80) rotate(90)" font-size="31" font-weight="normal" font-style="normal" text-anchor="middle" fill="#000"  stroke="#000" stroke-width="0.25">ns</text>
</g>
<g id="panel-j">
<text x="32.20" y="1497.30" font-size="46.5" font-weight="bold" font-style="normal" text-anchor="start" fill="#000"  stroke="#000" stroke-width="0.45">j</text>
<rect x="192.20" y="1745.40" width="23.00" height="82.15" fill="#0096ff" stroke="#000" stroke-width="4.7" />
<rect x="225.17" y="1745.40" width="23.00" height="74.45" fill="#0096ff" stroke="#000" stroke-width="4.7" />
<rect x="258.14" y="1745.40" width="23.00" height="73.15" fill="#0096ff" stroke="#000" stroke-width="4.7" />
<rect x="291.11" y="1745.40" width="23.00" height="57.95" fill="#0096ff" stroke="#000" stroke-width="4.7" />
<rect x="324.08" y="1745.40" width="23.00" height="47.05" fill="#0096ff" stroke="#000" stroke-width="4.7" />
<rect x="357.05" y="1745.40" width="23.00" height="37.95" fill="#0096ff" stroke="#000" stroke-width="4.7" />
<rect x="390.02" y="1745.40" width="23.00" height="37.95" fill="#0096ff" stroke="#000" stroke-width="4.7" />
<rect x="422.99" y="1745.40" width="23.00" height="18.85" fill="#0096ff" stroke="#000" stroke-width="4.7" />
<rect x="455.96" y="1745.40" width="23.00" height="14.85" fill="#ffffff" stroke="#000" stroke-width="4.7" />
<rect x="488.93" y="1745.40" width="23.00" height="11.85" fill="#ffffff" stroke="#000" stroke-width="4.7" />
<rect x="521.90" y="1745.40" width="23.00" height="11.85" fill="#ffffff" stroke="#000" stroke-width="4.7" />
<rect x="554.87" y="1745.40" width="23.00" height="9.75" fill="#ffffff" stroke="#000" stroke-width="4.7" />
<rect x="587.84" y="1745.40" width="23.00" height="3.65" fill="#ffffff" stroke="#000" stroke-width="4.7" />
<rect x="620.81" y="1745.40" width="23.00" height="2.25" fill="#ffffff" stroke="#000" stroke-width="4.7" />
<rect x="653.78" y="1745.40" width="23.00" height="1.55" fill="#ffffff" stroke="#000" stroke-width="4.7" />
<rect x="686.75" y="1745.40" width="23.00" height="0.85" fill="#ffffff" stroke="#000" stroke-width="4.7" />
<rect x="752.69" y="1739.95" width="23.00" height="2.75" fill="#ffffff" stroke="#000" stroke-width="4.7" />
<rect x="785.66" y="1732.55" width="23.00" height="10.15" fill="#ffffff" stroke="#000" stroke-width="4.7" />
<rect x="818.63" y="1730.15" width="23.00" height="12.55" fill="#ffffff" stroke="#000" stroke-width="4.7" />
<rect x="851.60" y="1722.65" width="23.00" height="20.05" fill="#ffffff" stroke="#000" stroke-width="4.7" />
<rect x="884.57" y="1721.35" width="23.00" height="21.35" fill="#ffffff" stroke="#000" stroke-width="4.7" />
<rect x="917.54" y="1719.45" width="23.00" height="23.25" fill="#ffffff" stroke="#000" stroke-width="4.7" />
<rect x="950.51" y="1717.85" width="23.00" height="24.85" fill="#ffffff" stroke="#000" stroke-width="4.7" />
<rect x="983.48" y="1713.95" width="23.00" height="28.75" fill="#ffff00" stroke="#000" stroke-width="4.7" />
<rect x="1016.45" y="1711.55" width="23.00" height="31.15" fill="#ffffff" stroke="#000" stroke-width="4.7" />
<rect x="1049.42" y="1709.65" width="23.00" height="33.05" fill="#ffff00" stroke="#000" stroke-width="4.7" />
<rect x="1082.39" y="1680.35" width="23.00" height="62.35" fill="#ffff00" stroke="#000" stroke-width="4.7" />
<rect x="1115.36" y="1673.45" width="23.00" height="69.25" fill="#ffff00" stroke="#000" stroke-width="4.7" />
<rect x="1148.33" y="1666.25" width="23.00" height="76.45" fill="#ffff00" stroke="#000" stroke-width="4.7" />
<rect x="1181.30" y="1664.05" width="23.00" height="78.65" fill="#ffff00" stroke="#000" stroke-width="4.7" />
<rect x="1214.27" y="1664.35" width="23.00" height="78.35" fill="#ffff00" stroke="#000" stroke-width="4.7" />
<rect x="1247.24" y="1662.75" width="23.00" height="79.95" fill="#ffff00" stroke="#000" stroke-width="4.7" />
<rect x="1280.21" y="1655.85" width="23.00" height="86.85" fill="#ffff00" stroke="#000" stroke-width="4.7" />
<rect x="1313.18" y="1651.85" width="23.00" height="90.85" fill="#ffff00" stroke="#000" stroke-width="4.7" />
<rect x="1346.15" y="1649.15" width="23.00" height="93.55" fill="#ffff00" stroke="#000" stroke-width="4.7" />
<rect x="1379.12" y="1648.05" width="23.00" height="94.65" fill="#ffff00" stroke="#000" stroke-width="4.7" />
<rect x="1412.09" y="1647.85" width="23.00" height="94.85" fill="#ffff00" stroke="#000" stroke-width="4.7" />
<rect x="1445.06" y="1640.65" width="23.00" height="102.05" fill="#ffff00" stroke="#000" stroke-width="4.7" />
<rect x="1478.03" y="1639.05" width="23.00" height="103.65" fill="#ffff00" stroke="#000" stroke-width="4.7" />
<rect x="1511.00" y="1631.05" width="23.00" height="111.65" fill="#ffff00" stroke="#000" stroke-width="4.7" />
<rect x="1543.97" y="1627.35" width="23.00" height="115.35" fill="#ffff00" stroke="#000" stroke-width="4.7" />
<rect x="1576.94" y="1621.85" width="23.00" height="120.85" fill="#ffff00" stroke="#000" stroke-width="4.7" />
<rect x="1609.91" y="1613.15" width="23.00" height="129.55" fill="#ffff00" stroke="#000" stroke-width="4.7" />
<rect x="1642.88" y="1611.85" width="23.00" height="130.85" fill="#ffff00" stroke="#000" stroke-width="4.7" />
<rect x="1675.85" y="1610.55" width="23.00" height="132.15" fill="#ffff00" stroke="#000" stroke-width="4.7" />
<rect x="1708.82" y="1608.65" width="23.00" height="134.05" fill="#ffff00" stroke="#000" stroke-width="4.7" />
<rect x="1741.79" y="1605.65" width="23.00" height="137.05" fill="#ffff00" stroke="#000" stroke-width="4.7" />
<rect x="1774.76" y="1592.65" width="23.00" height="150.05" fill="#ffff00" stroke="#000" stroke-width="4.7" />
<rect x="1807.73" y="1573.75" width="23.00" height="168.95" fill="#ffff00" stroke="#000" stroke-width="4.7" />
<rect x="1840.70" y="1573.25" width="23.00" height="169.45" fill="#ffff00" stroke="#000" stroke-width="4.7" />
<rect x="1873.67" y="1570.25" width="23.00" height="172.45" fill="#ffff00" stroke="#000" stroke-width="4.7" />
<rect x="1906.64" y="1566.85" width="23.00" height="175.85" fill="#ffff00" stroke="#000" stroke-width="4.7" />
<rect x="1939.61" y="1548.35" width="23.00" height="194.35" fill="#ffff00" stroke="#000" stroke-width="4.7" />
<line x1="176.00" y1="1742.70" x2="1991.50" y2="1742.70" stroke="#000" stroke-width="4.7" stroke-linecap="round" />
<line x1="176.30" y1="1514.40" x2="176.30" y2="1896.80" stroke="#000" stroke-width="7.4" stroke-linecap="butt" />
<line x1="150.20" y1="1893.00" x2="1994.00" y2="1893.00" stroke="#000" stroke-width="7.6" stroke-linecap="butt" />
<line x1="150.20" y1="1518.10" x2="176.30" y2="1518.10" stroke="#000" stroke-width="7.4" stroke-linecap="butt" />
<line x1="150.20" y1="1593.10" x2="176.30" y2="1593.10" stroke="#000" stroke-width="7.4" stroke-linecap="butt" />
<line x1="150.20" y1="1668.10" x2="176.30" y2="1668.10" stroke="#000" stroke-width="7.4" stroke-linecap="butt" />
<line x1="150.20" y1="1743.10" x2="176.30" y2="1743.10" stroke="#000" stroke-width="7.4" stroke-linecap="butt" />
<line x1="150.20" y1="1818.10" x2="176.30" y2="1818.10" stroke="#000" stroke-width="7.4" stroke-linecap="butt" />
<line x1="150.20" y1="1893.10" x2="176.30" y2="1893.10" stroke="#000" stroke-width="7.4" stroke-linecap="butt" />
<line x1="159.60" y1="1555.60" x2="176.30" y2="1555.60" stroke="#000" stroke-width="6.6" stroke-linecap="butt" />
<line x1="159.60" y1="1630.60" x2="176.30" y2="1630.60" stroke="#000" stroke-width="6.6" stroke-linecap="butt" />
<line x1="159.60" y1="1705.60" x2="176.30" y2="1705.60" stroke="#000" stroke-width="6.6" stroke-linecap="butt" />
<line x1="159.60" y1="1780.60" x2="176.30" y2="1780.60" stroke="#000" stroke-width="6.6" stroke-linecap="butt" />
<line x1="159.60" y1="1855.60" x2="176.30" y2="1855.60" stroke="#000" stroke-width="6.6" stroke-linecap="butt" />
<text x="145.00" y="1527.40" font-size="31" font-weight="bold" font-style="normal" text-anchor="end" fill="#000"  stroke="#000" stroke-width="0.45">8</text>
<text x="145.00" y="1602.40" font-size="31" font-weight="bold" font-style="normal" text-anchor="end" fill="#000"  stroke="#000" stroke-width="0.45">4</text>
<text x="145.00" y="1677.40" font-size="31" font-weight="bold" font-style="normal" text-anchor="end" fill="#000"  stroke="#000" stroke-width="0.45">2</text>
<text x="145.00" y="1752.40" font-size="31" font-weight="bold" font-style="normal" text-anchor="end" fill="#000"  stroke="#000" stroke-width="0.45">1</text>
<text x="145.00" y="1827.40" font-size="31" font-weight="bold" font-style="normal" text-anchor="end" fill="#000"  stroke="#000" stroke-width="0.45">0.5</text>
<text x="145.00" y="1902.40" font-size="31" font-weight="bold" font-style="normal" text-anchor="end" fill="#000"  stroke="#000" stroke-width="0.45">0.25</text>
<line x1="203.10" y1="1873.20" x2="203.10" y2="1890.00" stroke="#000" stroke-width="7.1" stroke-linecap="butt" />
<text transform="translate(211.90 1901.30) rotate(-90)" font-size="27.3" font-weight="bold" font-style="normal" text-anchor="end" fill="#000"  stroke="#000" stroke-width="0.45">PQM-1</text>
<line x1="236.07" y1="1873.20" x2="236.07" y2="1890.00" stroke="#000" stroke-width="7.1" stroke-linecap="butt" />
<text transform="translate(244.87 1901.30) rotate(-90)" font-size="27.3" font-weight="bold" font-style="normal" text-anchor="end" fill="#000"  stroke="#000" stroke-width="0.45">NHR-28</text>
<line x1="269.04" y1="1873.20" x2="269.04" y2="1890.00" stroke="#000" stroke-width="7.1" stroke-linecap="butt" />
<text transform="translate(277.84 1901.30) rotate(-90)" font-size="27.3" font-weight="bold" font-style="normal" text-anchor="end" fill="#000"  stroke="#000" stroke-width="0.45">DVE-1</text>
<line x1="302.01" y1="1873.20" x2="302.01" y2="1890.00" stroke="#000" stroke-width="7.1" stroke-linecap="butt" />
<text transform="translate(310.81 1901.30) rotate(-90)" font-size="27.3" font-weight="bold" font-style="normal" text-anchor="end" fill="#000"  stroke="#000" stroke-width="0.45">HLH-30</text>
<line x1="334.98" y1="1873.20" x2="334.98" y2="1890.00" stroke="#000" stroke-width="7.1" stroke-linecap="butt" />
<text transform="translate(343.78 1901.30) rotate(-90)" font-size="27.3" font-weight="bold" font-style="normal" text-anchor="end" fill="#000"  stroke="#000" stroke-width="0.45">CEH-38</text>
<line x1="367.95" y1="1873.20" x2="367.95" y2="1890.00" stroke="#000" stroke-width="7.1" stroke-linecap="butt" />
<text transform="translate(376.75 1901.30) rotate(-90)" font-size="27.3" font-weight="bold" font-style="normal" text-anchor="end" fill="#000"  stroke="#000" stroke-width="0.45">MEP-1</text>
<line x1="400.92" y1="1873.20" x2="400.92" y2="1890.00" stroke="#000" stroke-width="7.1" stroke-linecap="butt" />
<text transform="translate(409.72 1901.30) rotate(-90)" font-size="27.3" font-weight="bold" font-style="normal" text-anchor="end" fill="#000"  stroke="#000" stroke-width="0.45">DAF-16</text>
<line x1="433.89" y1="1873.20" x2="433.89" y2="1890.00" stroke="#000" stroke-width="7.1" stroke-linecap="butt" />
<text transform="translate(442.69 1901.30) rotate(-90)" font-size="27.3" font-weight="bold" font-style="normal" text-anchor="end" fill="#000"  stroke="#000" stroke-width="0.45">LSY-2</text>
<line x1="466.86" y1="1873.20" x2="466.86" y2="1890.00" stroke="#000" stroke-width="7.1" stroke-linecap="butt" />
<text transform="translate(475.66 1901.30) rotate(-90)" font-size="27.3" font-weight="bold" font-style="normal" text-anchor="end" fill="#000"  stroke="#000" stroke-width="0.45">FKH-10</text>
<line x1="499.83" y1="1873.20" x2="499.83" y2="1890.00" stroke="#000" stroke-width="7.1" stroke-linecap="butt" />
<text transform="translate(508.63 1901.30) rotate(-90)" font-size="27.3" font-weight="bold" font-style="normal" text-anchor="end" fill="#000"  stroke="#000" stroke-width="0.45">NHR-77</text>
<line x1="532.80" y1="1873.20" x2="532.80" y2="1890.00" stroke="#000" stroke-width="7.1" stroke-linecap="butt" />
<text transform="translate(541.60 1901.30) rotate(-90)" font-size="27.3" font-weight="bold" font-style="normal" text-anchor="end" fill="#000"  stroke="#000" stroke-width="0.45">UNC-130</text>
<line x1="565.77" y1="1873.20" x2="565.77" y2="1890.00" stroke="#000" stroke-width="7.1" stroke-linecap="butt" />
<text transform="translate(574.57 1901.30) rotate(-90)" font-size="27.3" font-weight="bold" font-style="normal" text-anchor="end" fill="#000"  stroke="#000" stroke-width="0.45">DPL-1</text>
<line x1="598.74" y1="1873.20" x2="598.74" y2="1890.00" stroke="#000" stroke-width="7.1" stroke-linecap="butt" />
<text transform="translate(607.54 1901.30) rotate(-90)" font-size="27.3" font-weight="bold" font-style="normal" text-anchor="end" fill="#000"  stroke="#000" stroke-width="0.45">PHA-4</text>
<line x1="631.71" y1="1873.20" x2="631.71" y2="1890.00" stroke="#000" stroke-width="7.1" stroke-linecap="butt" />
<text transform="translate(640.51 1901.30) rotate(-90)" font-size="27.3" font-weight="bold" font-style="normal" text-anchor="end" fill="#000"  stroke="#000" stroke-width="0.45">RBR-2</text>
<line x1="664.68" y1="1873.20" x2="664.68" y2="1890.00" stroke="#000" stroke-width="7.1" stroke-linecap="butt" />
<text transform="translate(673.48 1901.30) rotate(-90)" font-size="27.3" font-weight="bold" font-style="normal" text-anchor="end" fill="#000"  stroke="#000" stroke-width="0.45">CES-1</text>
<line x1="697.65" y1="1873.20" x2="697.65" y2="1890.00" stroke="#000" stroke-width="7.1" stroke-linecap="butt" />
<text transform="translate(706.45 1901.30) rotate(-90)" font-size="27.3" font-weight="bold" font-style="normal" text-anchor="end" fill="#000"  stroke="#000" stroke-width="0.45">F49E8.2</text>
<line x1="730.62" y1="1873.20" x2="730.62" y2="1890.00" stroke="#000" stroke-width="7.1" stroke-linecap="butt" />
<text transform="translate(739.42 1901.30) rotate(-90)" font-size="27.3" font-weight="bold" font-style="normal" text-anchor="end" fill="#000"  stroke="#000" stroke-width="0.45">NHR-6</text>
<line x1="763.59" y1="1873.20" x2="763.59" y2="1890.00" stroke="#000" stroke-width="7.1" stroke-linecap="butt" />
<text transform="translate(772.39 1901.30) rotate(-90)" font-size="27.3" font-weight="bold" font-style="normal" text-anchor="end" fill="#000"  stroke="#000" stroke-width="0.45">MDL-1</text>
<line x1="796.56" y1="1873.20" x2="796.56" y2="1890.00" stroke="#000" stroke-width="7.1" stroke-linecap="butt" />
<text transform="translate(805.36 1901.30) rotate(-90)" font-size="27.3" font-weight="bold" font-style="normal" text-anchor="end" fill="#000"  stroke="#000" stroke-width="0.45">NHR-11</text>
<line x1="829.53" y1="1873.20" x2="829.53" y2="1890.00" stroke="#000" stroke-width="7.1" stroke-linecap="butt" />
<text transform="translate(838.33 1901.30) rotate(-90)" font-size="27.3" font-weight="bold" font-style="normal" text-anchor="end" fill="#000"  stroke="#000" stroke-width="0.45">DUXL-1</text>
<line x1="862.50" y1="1873.20" x2="862.50" y2="1890.00" stroke="#000" stroke-width="7.1" stroke-linecap="butt" />
<text transform="translate(871.30 1901.30) rotate(-90)" font-size="27.3" font-weight="bold" font-style="normal" text-anchor="end" fill="#000"  stroke="#000" stroke-width="0.45">NHR-48</text>
<line x1="895.47" y1="1873.20" x2="895.47" y2="1890.00" stroke="#000" stroke-width="7.1" stroke-linecap="butt" />
<text transform="translate(904.27 1901.30) rotate(-90)" font-size="27.3" font-weight="bold" font-style="normal" text-anchor="end" fill="#000"  stroke="#000" stroke-width="0.45">UNC-62</text>
<line x1="928.44" y1="1873.20" x2="928.44" y2="1890.00" stroke="#000" stroke-width="7.1" stroke-linecap="butt" />
<text transform="translate(937.24 1901.30) rotate(-90)" font-size="27.3" font-weight="bold" font-style="normal" text-anchor="end" fill="#000"  stroke="#000" stroke-width="0.45">R02D3.7</text>
<line x1="961.41" y1="1873.20" x2="961.41" y2="1890.00" stroke="#000" stroke-width="7.1" stroke-linecap="butt" />
<text transform="translate(970.21 1901.30) rotate(-90)" font-size="27.3" font-weight="bold" font-style="normal" text-anchor="end" fill="#000"  stroke="#000" stroke-width="0.45">NHR-25</text>
<line x1="994.38" y1="1873.20" x2="994.38" y2="1890.00" stroke="#000" stroke-width="7.1" stroke-linecap="butt" />
<text transform="translate(1003.18 1901.30) rotate(-90)" font-size="27.3" font-weight="bold" font-style="normal" text-anchor="end" fill="#000"  stroke="#000" stroke-width="0.45">NHR-102</text>
<line x1="1027.35" y1="1873.20" x2="1027.35" y2="1890.00" stroke="#000" stroke-width="7.1" stroke-linecap="butt" />
<text transform="translate(1036.15 1901.30) rotate(-90)" font-size="27.3" font-weight="bold" font-style="normal" text-anchor="end" fill="#000"  stroke="#000" stroke-width="0.45">F37D6.2</text>
<line x1="1060.32" y1="1873.20" x2="1060.32" y2="1890.00" stroke="#000" stroke-width="7.1" stroke-linecap="butt" />
<text transform="translate(1069.12 1901.30) rotate(-90)" font-size="27.3" font-weight="bold" font-style="normal" text-anchor="end" fill="#000"  stroke="#000" stroke-width="0.45">LIN-13</text>
<line x1="1093.29" y1="1873.20" x2="1093.29" y2="1890.00" stroke="#000" stroke-width="7.1" stroke-linecap="butt" />
<text transform="translate(1102.09 1901.30) rotate(-90)" font-size="27.3" font-weight="bold" font-style="normal" text-anchor="end" fill="#000"  stroke="#000" stroke-width="0.45">SPR-1</text>
<line x1="1126.26" y1="1873.20" x2="1126.26" y2="1890.00" stroke="#000" stroke-width="7.1" stroke-linecap="butt" />
<text transform="translate(1135.06 1901.30) rotate(-90)" font-size="27.3" font-weight="bold" font-style="normal" text-anchor="end" fill="#000"  stroke="#000" stroke-width="0.45">ZTF-7</text>
<line x1="1159.23" y1="1873.20" x2="1159.23" y2="1890.00" stroke="#000" stroke-width="7.1" stroke-linecap="butt" />
<text transform="translate(1168.03 1901.30) rotate(-90)" font-size="27.3" font-weight="bold" font-style="normal" text-anchor="end" fill="#000"  stroke="#000" stroke-width="0.45">SNPC-4</text>
<line x1="1192.20" y1="1873.20" x2="1192.20" y2="1890.00" stroke="#000" stroke-width="7.1" stroke-linecap="butt" />
<text transform="translate(1201.00 1901.30) rotate(-90)" font-size="27.3" font-weight="bold" font-style="normal" text-anchor="end" fill="#000"  stroke="#000" stroke-width="0.45">NHR-10</text>
<line x1="1225.17" y1="1873.20" x2="1225.17" y2="1890.00" stroke="#000" stroke-width="7.1" stroke-linecap="butt" />
<text transform="translate(1233.97 1901.30) rotate(-90)" font-size="27.3" font-weight="bold" font-style="normal" text-anchor="end" fill="#000"  stroke="#000" stroke-width="0.45">F10B5.3</text>
<line x1="1258.14" y1="1873.20" x2="1258.14" y2="1890.00" stroke="#000" stroke-width="7.1" stroke-linecap="butt" />
<text transform="translate(1266.94 1901.30) rotate(-90)" font-size="27.3" font-weight="bold" font-style="normal" text-anchor="end" fill="#000"  stroke="#000" stroke-width="0.45">CEY-2</text>
<line x1="1291.11" y1="1873.20" x2="1291.11" y2="1890.00" stroke="#000" stroke-width="7.1" stroke-linecap="butt" />
<text transform="translate(1299.91 1901.30) rotate(-90)" font-size="27.3" font-weight="bold" font-style="normal" text-anchor="end" fill="#000"  stroke="#000" stroke-width="0.45">ZIP-2</text>
<line x1="1324.08" y1="1873.20" x2="1324.08" y2="1890.00" stroke="#000" stroke-width="7.1" stroke-linecap="butt" />
<text transform="translate(1332.88 1901.30) rotate(-90)" font-size="27.3" font-weight="bold" font-style="normal" text-anchor="end" fill="#000"  stroke="#000" stroke-width="0.45">ZFP-2</text>
<line x1="1357.05" y1="1873.20" x2="1357.05" y2="1890.00" stroke="#000" stroke-width="7.1" stroke-linecap="butt" />
<text transform="translate(1365.85 1901.30) rotate(-90)" font-size="27.3" font-weight="bold" font-style="normal" text-anchor="end" fill="#000"  stroke="#000" stroke-width="0.45">LIN-15B</text>
<line x1="1390.02" y1="1873.20" x2="1390.02" y2="1890.00" stroke="#000" stroke-width="7.1" stroke-linecap="butt" />
<text transform="translate(1398.82 1901.30) rotate(-90)" font-size="27.3" font-weight="bold" font-style="normal" text-anchor="end" fill="#000"  stroke="#000" stroke-width="0.45">LIR-3</text>
<line x1="1422.99" y1="1873.20" x2="1422.99" y2="1890.00" stroke="#000" stroke-width="7.1" stroke-linecap="butt" />
<text transform="translate(1431.79 1901.30) rotate(-90)" font-size="27.3" font-weight="bold" font-style="normal" text-anchor="end" fill="#000"  stroke="#000" stroke-width="0.45">43252</text>
<line x1="1455.96" y1="1873.20" x2="1455.96" y2="1890.00" stroke="#000" stroke-width="7.1" stroke-linecap="butt" />
<text transform="translate(1464.76 1901.30) rotate(-90)" font-size="27.3" font-weight="bold" font-style="normal" text-anchor="end" fill="#000"  stroke="#000" stroke-width="0.45">NHR-116</text>
<line x1="1488.93" y1="1873.20" x2="1488.93" y2="1890.00" stroke="#000" stroke-width="7.1" stroke-linecap="butt" />
<text transform="translate(1497.73 1901.30) rotate(-90)" font-size="27.3" font-weight="bold" font-style="normal" text-anchor="end" fill="#000"  stroke="#000" stroke-width="0.45">NHR-76</text>
<line x1="1521.90" y1="1873.20" x2="1521.90" y2="1890.00" stroke="#000" stroke-width="7.1" stroke-linecap="butt" />
<text transform="translate(1530.70 1901.30) rotate(-90)" font-size="27.3" font-weight="bold" font-style="normal" text-anchor="end" fill="#000"  stroke="#000" stroke-width="0.45">C05D10.1</text>
<line x1="1554.87" y1="1873.20" x2="1554.87" y2="1890.00" stroke="#000" stroke-width="7.1" stroke-linecap="butt" />
<text transform="translate(1563.67 1901.30) rotate(-90)" font-size="27.3" font-weight="bold" font-style="normal" text-anchor="end" fill="#000"  stroke="#000" stroke-width="0.45">ZK546.5</text>
<line x1="1587.84" y1="1873.20" x2="1587.84" y2="1890.00" stroke="#000" stroke-width="7.1" stroke-linecap="butt" />
<text transform="translate(1596.64 1901.30) rotate(-90)" font-size="27.3" font-weight="bold" font-style="normal" text-anchor="end" fill="#000"  stroke="#000" stroke-width="0.45">CEH-32</text>
<line x1="1620.81" y1="1873.20" x2="1620.81" y2="1890.00" stroke="#000" stroke-width="7.1" stroke-linecap="butt" />
<text transform="translate(1629.61 1901.30) rotate(-90)" font-size="27.3" font-weight="bold" font-style="normal" text-anchor="end" fill="#000"  stroke="#000" stroke-width="0.45">ZAG-1</text>
<line x1="1653.78" y1="1873.20" x2="1653.78" y2="1890.00" stroke="#000" stroke-width="7.1" stroke-linecap="butt" />
<text transform="translate(1662.58 1901.30) rotate(-90)" font-size="27.3" font-weight="bold" font-style="normal" text-anchor="end" fill="#000"  stroke="#000" stroke-width="0.45">LIN-39</text>
<line x1="1686.75" y1="1873.20" x2="1686.75" y2="1890.00" stroke="#000" stroke-width="7.1" stroke-linecap="butt" />
<text transform="translate(1695.55 1901.30) rotate(-90)" font-size="27.3" font-weight="bold" font-style="normal" text-anchor="end" fill="#000"  stroke="#000" stroke-width="0.45">FOS-1</text>
<line x1="1719.72" y1="1873.20" x2="1719.72" y2="1890.00" stroke="#000" stroke-width="7.1" stroke-linecap="butt" />
<text transform="translate(1728.52 1901.30) rotate(-90)" font-size="27.3" font-weight="bold" font-style="normal" text-anchor="end" fill="#000"  stroke="#000" stroke-width="0.45">EGL-27</text>
<line x1="1752.69" y1="1873.20" x2="1752.69" y2="1890.00" stroke="#000" stroke-width="7.1" stroke-linecap="butt" />
<text transform="translate(1761.49 1901.30) rotate(-90)" font-size="27.3" font-weight="bold" font-style="normal" text-anchor="end" fill="#000"  stroke="#000" stroke-width="0.45">NHR-237</text>
<line x1="1785.66" y1="1873.20" x2="1785.66" y2="1890.00" stroke="#000" stroke-width="7.1" stroke-linecap="butt" />
<text transform="translate(1794.46 1901.30) rotate(-90)" font-size="27.3" font-weight="bold" font-style="normal" text-anchor="end" fill="#000"  stroke="#000" stroke-width="0.45">R06F6.6</text>
<line x1="1818.63" y1="1873.20" x2="1818.63" y2="1890.00" stroke="#000" stroke-width="7.1" stroke-linecap="butt" />
<text transform="translate(1827.43 1901.30) rotate(-90)" font-size="27.3" font-weight="bold" font-style="normal" text-anchor="end" fill="#000"  stroke="#000" stroke-width="0.45">ZTF-11</text>
<line x1="1851.60" y1="1873.20" x2="1851.60" y2="1890.00" stroke="#000" stroke-width="7.1" stroke-linecap="butt" />
<text transform="translate(1860.40 1901.30) rotate(-90)" font-size="27.3" font-weight="bold" font-style="normal" text-anchor="end" fill="#000"  stroke="#000" stroke-width="0.45">SKN-1</text>
<line x1="1884.57" y1="1873.20" x2="1884.57" y2="1890.00" stroke="#000" stroke-width="7.1" stroke-linecap="butt" />
<text transform="translate(1893.37 1901.30) rotate(-90)" font-size="27.3" font-weight="bold" font-style="normal" text-anchor="end" fill="#000"  stroke="#000" stroke-width="0.45">AHA-1</text>
<line x1="1917.54" y1="1873.20" x2="1917.54" y2="1890.00" stroke="#000" stroke-width="7.1" stroke-linecap="butt" />
<text transform="translate(1926.34 1901.30) rotate(-90)" font-size="27.3" font-weight="bold" font-style="normal" text-anchor="end" fill="#000"  stroke="#000" stroke-width="0.45">F45C12.2</text>
<line x1="1950.51" y1="1873.20" x2="1950.51" y2="1890.00" stroke="#000" stroke-width="7.1" stroke-linecap="butt" />
<text transform="translate(1959.31 1901.30) rotate(-90)" font-size="27.3" font-weight="bold" font-style="normal" text-anchor="end" fill="#000"  stroke="#000" stroke-width="0.45">UNC-39</text>
<text transform="translate(25.20 1709.00) rotate(-90)" font-size="36" font-weight="bold" font-style="normal" text-anchor="middle" fill="#000" textLength="275" lengthAdjust="spacingAndGlyphs" stroke="#000" stroke-width="0.45">TF Enrichment at</text>
<text transform="translate(64.70 1709.20) rotate(-90)" font-size="36" font-weight="bold" font-style="normal" text-anchor="middle" fill="#000" textLength="342" lengthAdjust="spacingAndGlyphs" stroke="#000" stroke-width="0.45">HIF-1 ChIP-seq Peaks</text>
<text x="1084.80" y="2073.70" font-size="33.4" font-weight="bold" font-style="normal" text-anchor="middle" fill="#000"  stroke="#000" stroke-width="0.45">Transcription Factor</text>
<rect x="221.40" y="1513.70" width="38.00" height="37.60" fill="#ffff00" stroke="#000" stroke-width="5.2" />
<rect x="221.40" y="1578.90" width="38.00" height="37.30" fill="#0096ff" stroke="#000" stroke-width="5.2" />
<text x="264.60" y="1543.20" font-size="33.35" font-weight="normal" font-style="normal" text-anchor="start" fill="#000"  stroke="#000" stroke-width="0.25">Over-enriched, p&lt;0.0001</text>
<text x="264.20" y="1606.40" font-size="33.35" font-weight="normal" font-style="normal" text-anchor="start" fill="#000"  stroke="#000" stroke-width="0.25">Under-enriched, p&lt;0.0001</text>
</g>
</svg>
</body></html>
